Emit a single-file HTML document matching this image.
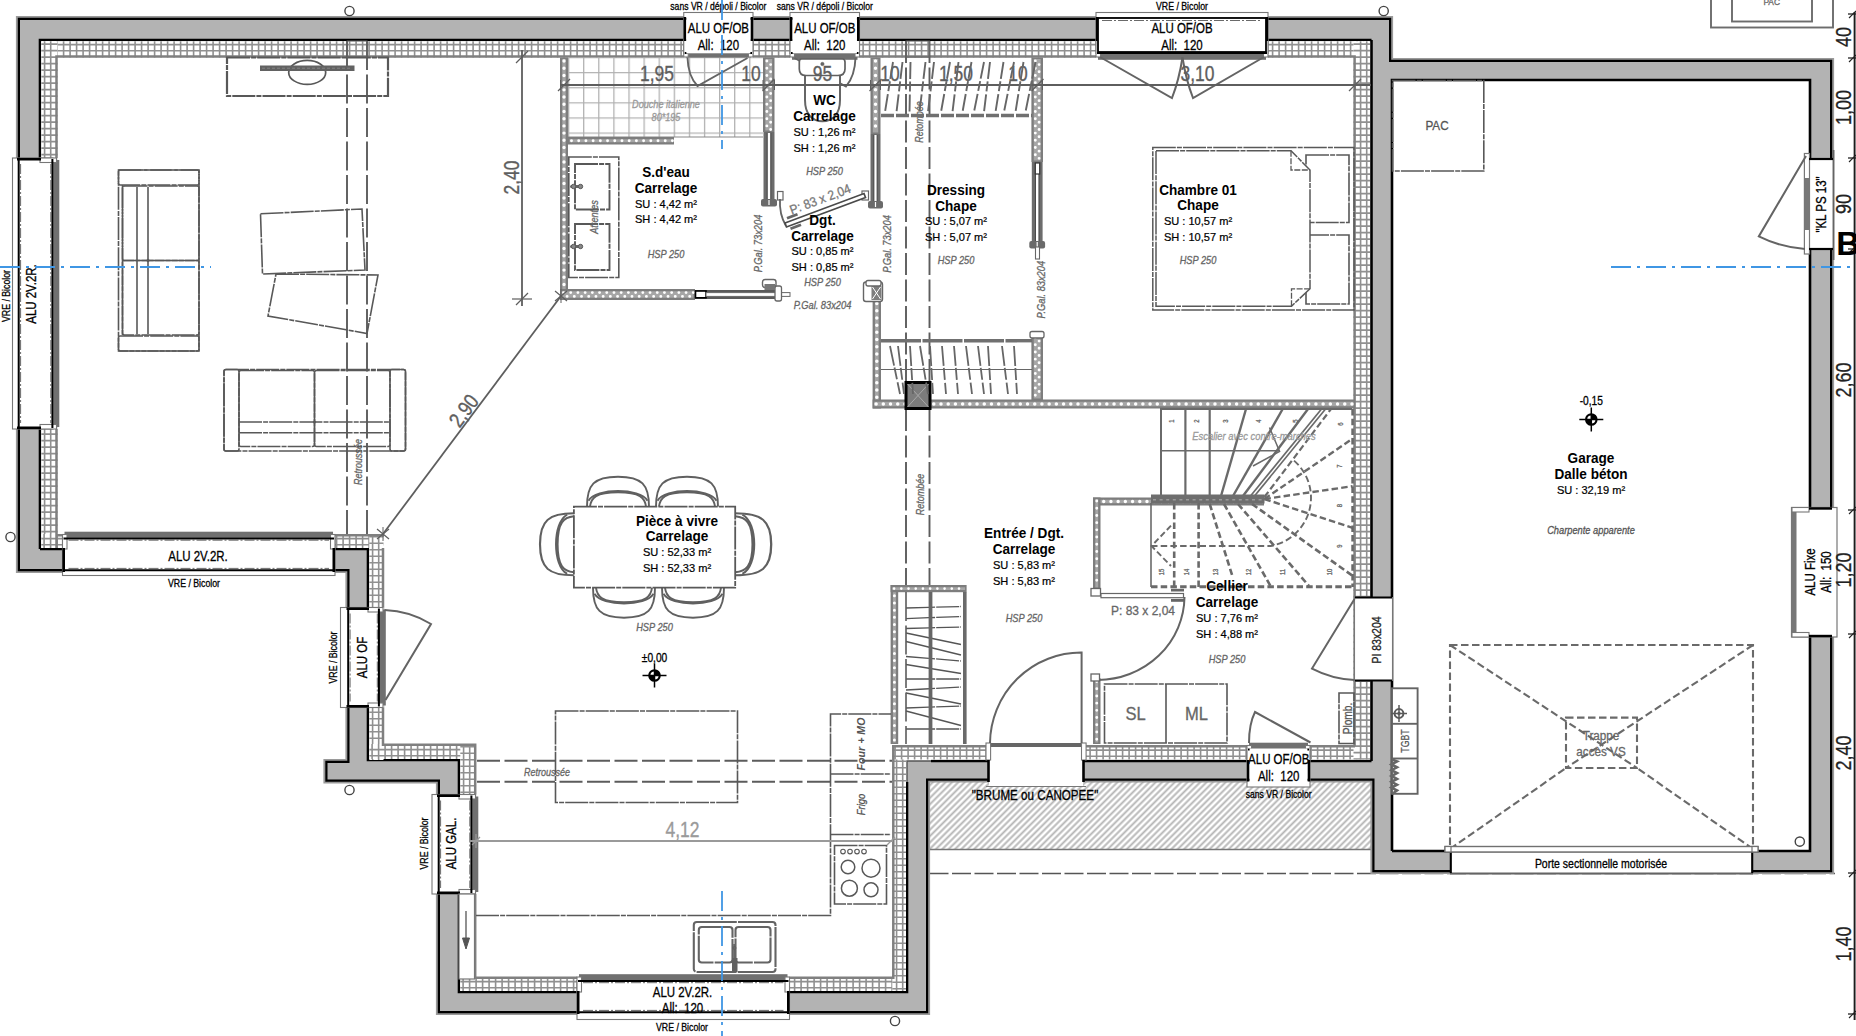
<!DOCTYPE html>
<html><head><meta charset="utf-8"><title>Plan RDC</title>
<style>
html,body{margin:0;padding:0;background:#fff;}
body{width:1856px;height:1036px;overflow:hidden;}
svg{display:block;font-family:"Liberation Sans",sans-serif;}
</style></head><body>
<svg width="1856" height="1036" viewBox="0 0 1856 1036">
<defs>
<pattern id="insH" x="40.1" y="40.0" width="6.75" height="5.3" patternUnits="userSpaceOnUse">
<rect width="6.75" height="5.3" fill="#858585"/><rect x="1.25" y="1.2" width="4.25" height="2.9" fill="#fff"/>
</pattern>
<pattern id="insV" x="40.0" y="40.1" width="5.3" height="6.75" patternUnits="userSpaceOnUse">
<rect width="5.3" height="6.75" fill="#858585"/><rect x="1.2" y="1.25" width="2.9" height="4.25" fill="#fff"/>
</pattern>
<pattern id="hatch" width="4.5" height="4.5" patternUnits="userSpaceOnUse" patternTransform="rotate(-45)">
<rect width="4.5" height="4.5" fill="#fff"/><line x1="0" y1="2.25" x2="4.5" y2="2.25" stroke="#b6b6b6" stroke-width="1.9"/>
</pattern>
<pattern id="tile" x="568" y="57" width="15.1" height="15.1" patternUnits="userSpaceOnUse">
<rect width="15.1" height="15.1" fill="#fff"/><path d="M0 0.6H15.1M0.6 0V15.1" stroke="#b0b0b0" stroke-width="1.3" fill="none"/>
</pattern>
</defs>
<rect width="1856" height="1036" fill="#fff"/>
<rect x="929.5" y="782" width="441.5" height="67.5" fill="url(#hatch)" stroke="none" stroke-width="1" />
<line x1="929.5" y1="849.5" x2="1371" y2="849.5" stroke="#777" stroke-width="1.4" />
<line x1="929.5" y1="873.5" x2="1835" y2="873.5" stroke="#555" stroke-width="1.5" stroke-dasharray="19 3.5" />
<rect x="17" y="17" width="1375" height="23" fill="#b3b3b3" stroke="none" stroke-width="1" />
<rect x="17" y="17" width="23" height="555" fill="#b3b3b3" stroke="none" stroke-width="1" />
<rect x="17" y="549" width="351" height="23" fill="#b3b3b3" stroke="none" stroke-width="1" />
<rect x="346.5" y="549" width="21.5" height="233" fill="#b3b3b3" stroke="none" stroke-width="1" />
<rect x="324.5" y="760" width="134.5" height="22.5" fill="#b3b3b3" stroke="none" stroke-width="1" />
<rect x="437" y="760" width="22" height="254" fill="#b3b3b3" stroke="none" stroke-width="1" />
<rect x="437" y="992" width="492" height="22" fill="#b3b3b3" stroke="none" stroke-width="1" />
<rect x="907" y="761" width="22" height="253" fill="#b3b3b3" stroke="none" stroke-width="1" />
<rect x="907" y="761" width="485" height="20.5" fill="#b3b3b3" stroke="none" stroke-width="1" />
<rect x="1371.5" y="17" width="20.5" height="856" fill="#b3b3b3" stroke="none" stroke-width="1" />
<rect x="1392" y="59" width="441" height="21" fill="#b3b3b3" stroke="none" stroke-width="1" />
<rect x="1810" y="59" width="23" height="814" fill="#b3b3b3" stroke="none" stroke-width="1" />
<rect x="1371.5" y="851" width="78.5" height="22" fill="#b3b3b3" stroke="none" stroke-width="1" />
<rect x="1753" y="851" width="80" height="22" fill="#b3b3b3" stroke="none" stroke-width="1" />
<path d="M17 17 L1392 17 L1392 59 L1833 59 L1833 873 L1371.5 873 L1371.5 781.5 L929 781.5 L929 1014 L437 1014 L437 782.5 L324.5 782.5 L324.5 760 L346.5 760 L346.5 572 L17 572 Z" fill="none" stroke="#9a9a9a" stroke-width="2.2" />
<path d="M18.9 18.9 L1390.1 18.9 L1390.1 60.9 L1831.1 60.9 L1831.1 871.1 L1373.4 871.1 L1373.4 779.6 L927.1 779.6 L927.1 1012.1 L438.9 1012.1 L438.9 780.6 L326.4 780.6 L326.4 761.9 L348.4 761.9 L348.4 570.1 L18.9 570.1 Z" fill="none" stroke="#000" stroke-width="2.2" stroke-linejoin="miter"/>
<path d="M40 549 L40 40 L1371.5 40" fill="none" stroke="#000" stroke-width="2.6" stroke-linejoin="miter"/>
<path d="M40 549 L368 549 L368 760 L459 760 L459 992 L907 992 L907 782" fill="none" stroke="#000" stroke-width="2.6" stroke-linejoin="miter"/>
<path d="M931 761 L1371.5 761" fill="none" stroke="#000" stroke-width="2.6" stroke-linejoin="miter"/>
<path d="M1371.5 40 L1371.5 761" fill="none" stroke="#000" stroke-width="2.6" stroke-linejoin="miter"/>
<path d="M1392 851 L1392 80 L1810 80 L1810 851 L1753 851" fill="none" stroke="#000" stroke-width="2.6" stroke-linejoin="miter"/>
<path d="M1450 851 L1392 851" fill="none" stroke="#000" stroke-width="2.6" stroke-linejoin="miter"/>
<path d="M907 782 L907 761 L931 761" fill="none" stroke="#555" stroke-width="1.4" />
<rect x="41.3" y="41.3" width="1328.7" height="16.2" fill="#fff" stroke="none" stroke-width="1" />
<line x1="41.3" y1="49.4" x2="1370" y2="49.4" stroke="#909090" stroke-width="16.200000000000003" stroke-dasharray="1.6 4.9" stroke-dashoffset="-2"/>
<line x1="41.3" y1="44.6" x2="1370" y2="44.6" stroke="#909090" stroke-width="1.6" />
<line x1="41.3" y1="50.7" x2="1370" y2="50.7" stroke="#909090" stroke-width="1.6" />
<rect x="41.3" y="41.3" width="16.2" height="506.7" fill="#fff" stroke="none" stroke-width="1" />
<line x1="49.4" y1="41.3" x2="49.4" y2="548" stroke="#909090" stroke-width="16.200000000000003" stroke-dasharray="1.6 4.9" stroke-dashoffset="-2"/>
<line x1="44.6" y1="41.3" x2="44.6" y2="548" stroke="#909090" stroke-width="1.6" />
<line x1="50.7" y1="41.3" x2="50.7" y2="548" stroke="#909090" stroke-width="1.6" />
<rect x="41.3" y="534" width="342.2" height="14" fill="#fff" stroke="none" stroke-width="1" />
<line x1="41.3" y1="541" x2="383.5" y2="541" stroke="#909090" stroke-width="14" stroke-dasharray="1.6 4.9" stroke-dashoffset="-2"/>
<line x1="41.3" y1="544.7" x2="383.5" y2="544.7" stroke="#909090" stroke-width="1.6" />
<line x1="41.3" y1="538.6" x2="383.5" y2="538.6" stroke="#909090" stroke-width="1.6" />
<rect x="369.3" y="534" width="14.2" height="226" fill="#fff" stroke="none" stroke-width="1" />
<line x1="376.4" y1="534" x2="376.4" y2="760" stroke="#909090" stroke-width="14.199999999999989" stroke-dasharray="1.6 4.9" stroke-dashoffset="-2"/>
<line x1="372.6" y1="534" x2="372.6" y2="760" stroke="#909090" stroke-width="1.6" />
<line x1="378.7" y1="534" x2="378.7" y2="760" stroke="#909090" stroke-width="1.6" />
<rect x="369.3" y="744" width="106.7" height="15" fill="#fff" stroke="none" stroke-width="1" />
<line x1="369.3" y1="751.5" x2="476" y2="751.5" stroke="#909090" stroke-width="15" stroke-dasharray="1.6 4.9" stroke-dashoffset="-2"/>
<line x1="369.3" y1="755.7" x2="476" y2="755.7" stroke="#909090" stroke-width="1.6" />
<line x1="369.3" y1="749.6" x2="476" y2="749.6" stroke="#909090" stroke-width="1.6" />
<rect x="460.3" y="744" width="15.7" height="247" fill="#fff" stroke="none" stroke-width="1" />
<line x1="468.15" y1="744" x2="468.15" y2="991" stroke="#909090" stroke-width="15.699999999999989" stroke-dasharray="1.6 4.9" stroke-dashoffset="-2"/>
<line x1="463.6" y1="744" x2="463.6" y2="991" stroke="#909090" stroke-width="1.6" />
<line x1="469.7" y1="744" x2="469.7" y2="991" stroke="#909090" stroke-width="1.6" />
<rect x="460.3" y="977" width="445.7" height="14" fill="#fff" stroke="none" stroke-width="1" />
<line x1="460.3" y1="984" x2="906" y2="984" stroke="#909090" stroke-width="14" stroke-dasharray="1.6 4.9" stroke-dashoffset="-2"/>
<line x1="460.3" y1="987.7" x2="906" y2="987.7" stroke="#909090" stroke-width="1.6" />
<line x1="460.3" y1="981.6" x2="906" y2="981.6" stroke="#909090" stroke-width="1.6" />
<rect x="892.3" y="745.5" width="13.7" height="245.5" fill="#fff" stroke="none" stroke-width="1" />
<line x1="899.15" y1="745.5" x2="899.15" y2="991" stroke="#909090" stroke-width="13.700000000000045" stroke-dasharray="1.6 4.9" stroke-dashoffset="-2"/>
<line x1="902.7" y1="745.5" x2="902.7" y2="991" stroke="#909090" stroke-width="1.6" />
<line x1="896.6" y1="745.5" x2="896.6" y2="991" stroke="#909090" stroke-width="1.6" />
<rect x="892.3" y="745.5" width="477.7" height="14" fill="#fff" stroke="none" stroke-width="1" />
<line x1="892.3" y1="752.5" x2="1370" y2="752.5" stroke="#909090" stroke-width="14.0" stroke-dasharray="1.6 4.9" stroke-dashoffset="-2"/>
<line x1="892.3" y1="756.2" x2="1370" y2="756.2" stroke="#909090" stroke-width="1.6" />
<line x1="892.3" y1="750.1" x2="1370" y2="750.1" stroke="#909090" stroke-width="1.6" />
<rect x="1353.5" y="41.3" width="16.5" height="718.2" fill="#fff" stroke="none" stroke-width="1" />
<line x1="1361.75" y1="41.3" x2="1361.75" y2="759.5" stroke="#909090" stroke-width="16.5" stroke-dasharray="1.6 4.9" stroke-dashoffset="-2"/>
<line x1="1366.7" y1="41.3" x2="1366.7" y2="759.5" stroke="#909090" stroke-width="1.6" />
<line x1="1360.6" y1="41.3" x2="1360.6" y2="759.5" stroke="#909090" stroke-width="1.6" />
<path d="M56.5 548 L56.5 56.5 L1354.6 56.5 L1354.6 746" fill="none" stroke="#808080" stroke-width="2.5" />
<path d="M383 548 L383 744.8 L475.2 744.8 L475.2 977.8 L893.3 977.8 L893.3 746" fill="none" stroke="#808080" stroke-width="2.5" />
<line x1="892" y1="746.3" x2="1355" y2="746.3" stroke="#808080" stroke-width="2.4" />
<line x1="56.5" y1="535.2" x2="384" y2="535.2" stroke="#808080" stroke-width="2.4" />
<rect x="12.5" y="158" width="45.3" height="271" fill="#fff" stroke="none" stroke-width="1" />
<rect x="12.5" y="158" width="40.5" height="271" fill="none" stroke="#777" stroke-width="1.1" />
<rect x="53.4" y="160" width="5.9" height="267" fill="#707070" stroke="none" stroke-width="1" />
<rect x="40" y="158" width="16.5" height="4.5" fill="#fff" stroke="#777" stroke-width="1.1" />
<rect x="40" y="424.5" width="16.5" height="4.5" fill="#fff" stroke="#777" stroke-width="1.1" />
<line x1="52.4" y1="159" x2="52.4" y2="428" stroke="#000" stroke-width="2.0" />
<line x1="18.7" y1="159" x2="18.7" y2="428" stroke="#000" stroke-width="2.0" />
<line x1="41" y1="159.2" x2="17" y2="159.2" stroke="#000" stroke-width="2.6" />
<line x1="41" y1="427.8" x2="17" y2="427.8" stroke="#000" stroke-width="2.6" />
<line x1="50.8" y1="164" x2="50.8" y2="423" stroke="#444" stroke-width="0.8" stroke-dasharray="10 2 2 2" />
<line x1="20.6" y1="164" x2="20.6" y2="423" stroke="#444" stroke-width="0.8" stroke-dasharray="10 2 2 2" />
<text transform="translate(31,294) rotate(-90) scale(0.82,1)" font-size="14" text-anchor="middle" dy="0.36em" fill="#000" stroke="#000" stroke-width="0.3" >ALU 2V.2R.</text>
<text transform="translate(6,296) rotate(-90) scale(0.82,1)" font-size="10.7" text-anchor="middle" dy="0.36em" fill="#000" stroke="#000" stroke-width="0.3" >VRE / Bicolor</text>
<rect x="62.5" y="533.2" width="272.5" height="42.3" fill="#fff" stroke="none" stroke-width="1" />
<rect x="62.5" y="538" width="272.5" height="37.5" fill="none" stroke="#777" stroke-width="1.1" />
<rect x="64.5" y="531.7" width="268.5" height="5.9" fill="#707070" stroke="none" stroke-width="1" />
<rect x="62.5" y="534.5" width="4.5" height="14.5" fill="#fff" stroke="#777" stroke-width="1.1" />
<rect x="330.5" y="534.5" width="4.5" height="14.5" fill="#fff" stroke="#777" stroke-width="1.1" />
<line x1="63.5" y1="538.6" x2="334" y2="538.6" stroke="#000" stroke-width="2.0" />
<line x1="63.5" y1="570.3" x2="334" y2="570.3" stroke="#000" stroke-width="2.0" />
<line x1="63.7" y1="548" x2="63.7" y2="572" stroke="#000" stroke-width="2.6" />
<line x1="333.8" y1="548" x2="333.8" y2="572" stroke="#000" stroke-width="2.6" />
<line x1="68.5" y1="540.2" x2="329" y2="540.2" stroke="#444" stroke-width="0.8" stroke-dasharray="10 2 2 2" />
<line x1="68.5" y1="568.4" x2="329" y2="568.4" stroke="#444" stroke-width="0.8" stroke-dasharray="10 2 2 2" />
<text transform="translate(198,555.5) scale(0.82,1)" font-size="14" text-anchor="middle" dy="0.36em" fill="#000" stroke="#000" stroke-width="0.3" >ALU 2V.2R.</text>
<text transform="translate(194,583) scale(0.82,1)" font-size="10.7" text-anchor="middle" dy="0.36em" fill="#000" stroke="#000" stroke-width="0.3" >VRE / Bicolor</text>
<rect x="340.5" y="607.5" width="43.8" height="100" fill="#fff" stroke="none" stroke-width="1" />
<rect x="340.5" y="607.5" width="39" height="100" fill="none" stroke="#777" stroke-width="1.1" />
<rect x="379.9" y="609.5" width="5.9" height="96" fill="#707070" stroke="none" stroke-width="1" />
<rect x="368" y="607.5" width="15" height="4.5" fill="#fff" stroke="#777" stroke-width="1.1" />
<rect x="368" y="703" width="15" height="4.5" fill="#fff" stroke="#777" stroke-width="1.1" />
<line x1="378.9" y1="608.5" x2="378.9" y2="706.5" stroke="#000" stroke-width="2.0" />
<line x1="348.2" y1="608.5" x2="348.2" y2="706.5" stroke="#000" stroke-width="2.0" />
<line x1="369" y1="608.7" x2="346.5" y2="608.7" stroke="#000" stroke-width="2.6" />
<line x1="369" y1="706.3" x2="346.5" y2="706.3" stroke="#000" stroke-width="2.6" />
<line x1="377.3" y1="613.5" x2="377.3" y2="701.5" stroke="#444" stroke-width="0.8" stroke-dasharray="10 2 2 2" />
<line x1="350.1" y1="613.5" x2="350.1" y2="701.5" stroke="#444" stroke-width="0.8" stroke-dasharray="10 2 2 2" />
<text transform="translate(362,657.5) rotate(-90) scale(0.82,1)" font-size="14" text-anchor="middle" dy="0.36em" fill="#000" stroke="#000" stroke-width="0.3" >ALU OF</text>
<text transform="translate(333.5,657.5) rotate(-90) scale(0.82,1)" font-size="10.7" text-anchor="middle" dy="0.36em" fill="#000" stroke="#000" stroke-width="0.3" >VRE / Bicolor</text>
<rect x="432" y="794.5" width="44.8" height="99.5" fill="#fff" stroke="none" stroke-width="1" />
<rect x="432" y="794.5" width="40" height="99.5" fill="none" stroke="#777" stroke-width="1.1" />
<rect x="472.4" y="796.5" width="5.9" height="95.5" fill="#707070" stroke="none" stroke-width="1" />
<rect x="459" y="794.5" width="16.5" height="4.5" fill="#fff" stroke="#777" stroke-width="1.1" />
<rect x="459" y="889.5" width="16.5" height="4.5" fill="#fff" stroke="#777" stroke-width="1.1" />
<line x1="471.4" y1="795.5" x2="471.4" y2="893" stroke="#000" stroke-width="2.0" />
<line x1="438.7" y1="795.5" x2="438.7" y2="893" stroke="#000" stroke-width="2.0" />
<line x1="460" y1="795.7" x2="437" y2="795.7" stroke="#000" stroke-width="2.6" />
<line x1="460" y1="892.8" x2="437" y2="892.8" stroke="#000" stroke-width="2.6" />
<line x1="469.8" y1="800.5" x2="469.8" y2="888" stroke="#444" stroke-width="0.8" stroke-dasharray="10 2 2 2" />
<line x1="440.6" y1="800.5" x2="440.6" y2="888" stroke="#444" stroke-width="0.8" stroke-dasharray="10 2 2 2" />
<text transform="translate(451,843.5) rotate(-90) scale(0.82,1)" font-size="14" text-anchor="middle" dy="0.36em" fill="#000" stroke="#000" stroke-width="0.3" >ALU GAL.</text>
<text transform="translate(424,843.5) rotate(-90) scale(0.82,1)" font-size="10.7" text-anchor="middle" dy="0.36em" fill="#000" stroke="#000" stroke-width="0.3" >VRE / Bicolor</text>
<rect x="459" y="894" width="15.5" height="85" fill="#fff" stroke="#777" stroke-width="1.2" />
<line x1="466" y1="911" x2="466" y2="946" stroke="#555" stroke-width="1.3" />
<path d="M462.5 938 L466 949 L469.5 938 Z" fill="#555" stroke="#555" stroke-width="1" />
<rect x="577" y="975.7" width="212.5" height="43.8" fill="#fff" stroke="none" stroke-width="1" />
<rect x="577" y="980.5" width="212.5" height="39" fill="none" stroke="#777" stroke-width="1.1" />
<rect x="579" y="974.2" width="208.5" height="5.9" fill="#707070" stroke="none" stroke-width="1" />
<rect x="577" y="977" width="4.5" height="15" fill="#fff" stroke="#777" stroke-width="1.1" />
<rect x="785" y="977" width="4.5" height="15" fill="#fff" stroke="#777" stroke-width="1.1" />
<line x1="578" y1="981.1" x2="788.5" y2="981.1" stroke="#000" stroke-width="2.0" />
<line x1="578" y1="1012.3" x2="788.5" y2="1012.3" stroke="#000" stroke-width="2.0" />
<line x1="578.2" y1="991" x2="578.2" y2="1014" stroke="#000" stroke-width="2.6" />
<line x1="788.3" y1="991" x2="788.3" y2="1014" stroke="#000" stroke-width="2.6" />
<line x1="583" y1="982.7" x2="783.5" y2="982.7" stroke="#444" stroke-width="0.8" stroke-dasharray="10 2 2 2" />
<line x1="583" y1="1010.4" x2="783.5" y2="1010.4" stroke="#444" stroke-width="0.8" stroke-dasharray="10 2 2 2" />
<text transform="translate(682.5,991.5) scale(0.82,1)" font-size="14" text-anchor="middle" dy="0.36em" fill="#000" stroke="#000" stroke-width="0.3" >ALU 2V.2R.</text>
<text transform="translate(682.5,1007.5) scale(0.82,1)" font-size="14" text-anchor="middle" dy="0.36em" fill="#000" stroke="#000" stroke-width="0.3" >All:  120</text>
<text transform="translate(682,1027) scale(0.82,1)" font-size="10.7" text-anchor="middle" dy="0.36em" fill="#000" stroke="#000" stroke-width="0.3" >VRE / Bicolor</text>
<rect x="683.75" y="12.5" width="69.25" height="45.8" fill="#fff" stroke="none" stroke-width="1" />
<rect x="683.75" y="12.5" width="69.25" height="41" fill="none" stroke="#777" stroke-width="1.1" />
<rect x="685.75" y="53.9" width="65.25" height="5.9" fill="#707070" stroke="none" stroke-width="1" />
<rect x="683.75" y="40" width="4.5" height="17" fill="#fff" stroke="#777" stroke-width="1.1" />
<rect x="748.5" y="40" width="4.5" height="17" fill="#fff" stroke="#777" stroke-width="1.1" />
<line x1="684.75" y1="52.9" x2="752" y2="52.9" stroke="#000" stroke-width="2.0" />
<line x1="684.75" y1="18.7" x2="752" y2="18.7" stroke="#000" stroke-width="2.0" />
<line x1="684.95" y1="41" x2="684.95" y2="17" stroke="#000" stroke-width="2.6" />
<line x1="751.8" y1="41" x2="751.8" y2="17" stroke="#000" stroke-width="2.6" />
<line x1="689.75" y1="51.3" x2="747" y2="51.3" stroke="#444" stroke-width="0.8" stroke-dasharray="10 2 2 2" />
<line x1="689.75" y1="20.6" x2="747" y2="20.6" stroke="#444" stroke-width="0.8" stroke-dasharray="10 2 2 2" />
<rect x="686.35" y="14" width="64.05" height="39.6" fill="#fff" stroke="none" stroke-width="1" />
<text transform="translate(718.38,27.5) scale(0.82,1)" font-size="14" text-anchor="middle" dy="0.36em" fill="#000" stroke="#000" stroke-width="0.3" >ALU OF/OB</text>
<text transform="translate(718.38,44.5) scale(0.82,1)" font-size="14" text-anchor="middle" dy="0.36em" fill="#000" stroke="#000" stroke-width="0.3" >All:  120</text>
<text transform="translate(718.38,6) scale(0.82,1)" font-size="10.5" text-anchor="middle" dy="0.36em" fill="#000" stroke="#000" stroke-width="0.3" >sans VR / dépoli / Bicolor</text>
<rect x="790" y="12.5" width="69.5" height="45.8" fill="#fff" stroke="none" stroke-width="1" />
<rect x="790" y="12.5" width="69.5" height="41" fill="none" stroke="#777" stroke-width="1.1" />
<rect x="792" y="53.9" width="65.5" height="5.9" fill="#707070" stroke="none" stroke-width="1" />
<rect x="790" y="40" width="4.5" height="17" fill="#fff" stroke="#777" stroke-width="1.1" />
<rect x="855" y="40" width="4.5" height="17" fill="#fff" stroke="#777" stroke-width="1.1" />
<line x1="791" y1="52.9" x2="858.5" y2="52.9" stroke="#000" stroke-width="2.0" />
<line x1="791" y1="18.7" x2="858.5" y2="18.7" stroke="#000" stroke-width="2.0" />
<line x1="791.2" y1="41" x2="791.2" y2="17" stroke="#000" stroke-width="2.6" />
<line x1="858.3" y1="41" x2="858.3" y2="17" stroke="#000" stroke-width="2.6" />
<line x1="796" y1="51.3" x2="853.5" y2="51.3" stroke="#444" stroke-width="0.8" stroke-dasharray="10 2 2 2" />
<line x1="796" y1="20.6" x2="853.5" y2="20.6" stroke="#444" stroke-width="0.8" stroke-dasharray="10 2 2 2" />
<rect x="792.6" y="14" width="64.3" height="39.6" fill="#fff" stroke="none" stroke-width="1" />
<text transform="translate(824.75,27.5) scale(0.82,1)" font-size="14" text-anchor="middle" dy="0.36em" fill="#000" stroke="#000" stroke-width="0.3" >ALU OF/OB</text>
<text transform="translate(824.75,44.5) scale(0.82,1)" font-size="14" text-anchor="middle" dy="0.36em" fill="#000" stroke="#000" stroke-width="0.3" >All:  120</text>
<text transform="translate(824.75,6) scale(0.82,1)" font-size="10.5" text-anchor="middle" dy="0.36em" fill="#000" stroke="#000" stroke-width="0.3" >sans VR / dépoli / Bicolor</text>
<rect x="1096" y="12.5" width="172" height="45.8" fill="#fff" stroke="none" stroke-width="1" />
<rect x="1096" y="12.5" width="172" height="41" fill="none" stroke="#777" stroke-width="1.1" />
<rect x="1098" y="53.9" width="168" height="5.9" fill="#707070" stroke="none" stroke-width="1" />
<rect x="1096" y="40" width="4.5" height="17" fill="#fff" stroke="#777" stroke-width="1.1" />
<rect x="1263.5" y="40" width="4.5" height="17" fill="#fff" stroke="#777" stroke-width="1.1" />
<line x1="1097" y1="52.9" x2="1267" y2="52.9" stroke="#000" stroke-width="2.0" />
<line x1="1097" y1="18.7" x2="1267" y2="18.7" stroke="#000" stroke-width="2.0" />
<line x1="1097.2" y1="41" x2="1097.2" y2="17" stroke="#000" stroke-width="2.6" />
<line x1="1266.8" y1="41" x2="1266.8" y2="17" stroke="#000" stroke-width="2.6" />
<line x1="1102" y1="51.3" x2="1262" y2="51.3" stroke="#444" stroke-width="0.8" stroke-dasharray="10 2 2 2" />
<line x1="1102" y1="20.6" x2="1262" y2="20.6" stroke="#444" stroke-width="0.8" stroke-dasharray="10 2 2 2" />
<rect x="1098" y="18" width="168" height="34" fill="#fff" stroke="#000" stroke-width="1.8" />
<line x1="1102" y1="20.5" x2="1262" y2="20.5" stroke="#444" stroke-width="0.8" stroke-dasharray="10 2 2 2" />
<text transform="translate(1182,28) scale(0.82,1)" font-size="14" text-anchor="middle" dy="0.36em" fill="#000" stroke="#000" stroke-width="0.3" >ALU OF/OB</text>
<text transform="translate(1182,44.5) scale(0.82,1)" font-size="14" text-anchor="middle" dy="0.36em" fill="#000" stroke="#000" stroke-width="0.3" >All:  120</text>
<text transform="translate(1182,6) scale(0.82,1)" font-size="10.7" text-anchor="middle" dy="0.36em" fill="#000" stroke="#000" stroke-width="0.3" >VRE / Bicolor</text>
<rect x="1247" y="744.2" width="63" height="42.8" fill="#fff" stroke="none" stroke-width="1" />
<rect x="1247" y="749" width="63" height="38" fill="none" stroke="#777" stroke-width="1.1" />
<rect x="1249" y="742.7" width="59" height="5.9" fill="#707070" stroke="none" stroke-width="1" />
<rect x="1247" y="745.5" width="4.5" height="15.5" fill="#fff" stroke="#777" stroke-width="1.1" />
<rect x="1305.5" y="745.5" width="4.5" height="15.5" fill="#fff" stroke="#777" stroke-width="1.1" />
<line x1="1248" y1="749.6" x2="1309" y2="749.6" stroke="#000" stroke-width="2.0" />
<line x1="1248" y1="779.8" x2="1309" y2="779.8" stroke="#000" stroke-width="2.0" />
<line x1="1248.2" y1="760" x2="1248.2" y2="781.5" stroke="#000" stroke-width="2.6" />
<line x1="1308.8" y1="760" x2="1308.8" y2="781.5" stroke="#000" stroke-width="2.6" />
<line x1="1253" y1="751.2" x2="1304" y2="751.2" stroke="#444" stroke-width="0.8" stroke-dasharray="10 2 2 2" />
<line x1="1253" y1="777.9" x2="1304" y2="777.9" stroke="#444" stroke-width="0.8" stroke-dasharray="10 2 2 2" />
<rect x="1249.6" y="748.4" width="57.8" height="37.1" fill="#fff" stroke="none" stroke-width="1" />
<text transform="translate(1278.7,759) scale(0.82,1)" font-size="14" text-anchor="middle" dy="0.36em" fill="#000" stroke="#000" stroke-width="0.3" >ALU OF/OB</text>
<text transform="translate(1278.7,775.5) scale(0.82,1)" font-size="14" text-anchor="middle" dy="0.36em" fill="#000" stroke="#000" stroke-width="0.3" >All:  120</text>
<text transform="translate(1278.7,794.7) scale(0.82,1)" font-size="10.5" text-anchor="middle" dy="0.36em" fill="#000" stroke="#000" stroke-width="0.3" >sans VR / Bicolor</text>
<text transform="translate(1035,794.7) scale(0.82,1)" font-size="14.2" text-anchor="middle" dy="0.36em" fill="#000" stroke="#000" stroke-width="0.3" >"BRUME ou CANOPEE"</text>
<rect x="1791.5" y="507.5" width="45.5" height="129.5" fill="#fff" stroke="#777" stroke-width="1.2" />
<rect x="1792" y="510" width="4.5" height="124" fill="#777" stroke="none" stroke-width="1" />
<rect x="1792" y="507.5" width="17" height="4.5" fill="#fff" stroke="#777" stroke-width="1.1" />
<rect x="1792" y="632.5" width="17" height="4.5" fill="#fff" stroke="#777" stroke-width="1.1" />
<line x1="1809" y1="508.5" x2="1832" y2="508.5" stroke="#000" stroke-width="2.4" />
<line x1="1809" y1="636" x2="1832" y2="636" stroke="#000" stroke-width="2.4" />
<text transform="translate(1809.5,572) rotate(-90) scale(0.82,1)" font-size="14" text-anchor="middle" dy="0.36em" fill="#000" stroke="#000" stroke-width="0.3" >ALU Fixe</text>
<text transform="translate(1826,572) rotate(-90) scale(0.82,1)" font-size="14" text-anchor="middle" dy="0.36em" fill="#000" stroke="#000" stroke-width="0.3" >All:  150</text>
<rect x="1809" y="158.2" width="25.5" height="91.3" fill="#fff" stroke="none" stroke-width="1" />
<line x1="1833.5" y1="150" x2="1833.5" y2="260" stroke="#646464" stroke-width="1.9" />
<rect x="1804.4" y="153.5" width="5.1" height="100.5" fill="#fff" stroke="#777" stroke-width="1.2" />
<rect x="1804.6" y="178" width="4.7" height="52" fill="#777" stroke="none" stroke-width="1" />
<line x1="1809" y1="159" x2="1833" y2="159" stroke="#000" stroke-width="2.2" />
<line x1="1809" y1="249" x2="1833" y2="249" stroke="#000" stroke-width="2.2" />
<path d="M1806 156 L1758.8 236.4 Q1780 247 1805 249" fill="none" stroke="#646464" stroke-width="2.0" />
<text transform="translate(1820.7,204.5) rotate(-90) scale(0.82,1)" font-size="14" text-anchor="middle" dy="0.36em" fill="#000" stroke="#000" stroke-width="0.3" >"KL PS 13"</text>
<rect x="989" y="744" width="94" height="42.5" fill="#fff" stroke="none" stroke-width="1" />
<line x1="986" y1="786.5" x2="1086" y2="786.5" stroke="#777" stroke-width="1.1" />
<rect x="990" y="743" width="91" height="4" fill="#666" stroke="none" stroke-width="1" />
<rect x="986" y="743" width="4.6" height="17" fill="#fff" stroke="#777" stroke-width="1.1" />
<rect x="1081.5" y="743" width="4.6" height="17" fill="#fff" stroke="#777" stroke-width="1.1" />
<line x1="988.5" y1="760" x2="988.5" y2="782" stroke="#000" stroke-width="2.6" />
<line x1="1083.5" y1="760" x2="1083.5" y2="782" stroke="#000" stroke-width="2.6" />
<path d="M1081.6 743 L1081.6 652.6 A 91 91 0 0 0 990 743" fill="none" stroke="#646464" stroke-width="2.0" />
<rect x="1354.5" y="597" width="38.5" height="84" fill="#fff" stroke="none" stroke-width="1" />
<line x1="1354.5" y1="597" x2="1354.5" y2="681" stroke="#777" stroke-width="1.1" />
<line x1="1392.5" y1="597" x2="1392.5" y2="681" stroke="#777" stroke-width="1.1" />
<line x1="1355" y1="597.5" x2="1392" y2="597.5" stroke="#000" stroke-width="2.2" />
<line x1="1355" y1="680.5" x2="1392" y2="680.5" stroke="#000" stroke-width="2.2" />
<text transform="translate(1376.5,640) rotate(-90) scale(0.82,1)" font-size="12.8" text-anchor="middle" dy="0.36em" fill="#222" stroke="#222" stroke-width="0.3" >PI 83x204</text>
<path d="M1354.5 599 L1312 668.6 Q1332 679 1354.5 680" fill="none" stroke="#646464" stroke-width="2.0" />
<rect x="1450" y="850" width="303" height="24" fill="#fff" stroke="none" stroke-width="1" />
<rect x="1450" y="848.5" width="303" height="3.5" fill="#fff" stroke="#777" stroke-width="1.1" />
<line x1="1450" y1="873.5" x2="1753" y2="873.5" stroke="#646464" stroke-width="1.9" />
<rect x="1446" y="847" width="5" height="5.5" fill="#fff" stroke="#777" stroke-width="1" />
<rect x="1752" y="847" width="5" height="5.5" fill="#fff" stroke="#777" stroke-width="1" />
<text transform="translate(1601,863) scale(0.82,1)" font-size="12.8" text-anchor="middle" dy="0.36em" fill="#000" stroke="#000" stroke-width="0.3" >Porte sectionnelle motorisée</text>
<rect x="568" y="57.5" width="195" height="79.5" fill="url(#tile)" stroke="none" stroke-width="1" />
<line x1="568" y1="137" x2="763" y2="137" stroke="#888" stroke-width="1.2" />
<rect x="560" y="57.5" width="8" height="242.5" fill="#7d7d7d" stroke="none" stroke-width="1" />
<line x1="564" y1="59" x2="564" y2="298.5" stroke="#a6a6a6" stroke-width="3.4000000000000004" />
<line x1="564" y1="61" x2="564" y2="298.5" stroke="#fff" stroke-width="3.4000000000000004" stroke-dasharray="0.01 7.2" stroke-linecap="round"/>
<rect x="560" y="289" width="135" height="11" fill="#7d7d7d" stroke="none" stroke-width="1" />
<line x1="561.5" y1="294.5" x2="693.5" y2="294.5" stroke="#a6a6a6" stroke-width="6.4" />
<line x1="563.5" y1="292.6" x2="693.5" y2="292.6" stroke="#fff" stroke-width="2.9" stroke-dasharray="0.01 7.2" stroke-linecap="round"/>
<line x1="567.1" y1="296.4" x2="693.5" y2="296.4" stroke="#fff" stroke-width="2.9" stroke-dasharray="0.01 7.2" stroke-linecap="round"/>
<rect x="568" y="137" width="106" height="7.5" fill="#7d7d7d" stroke="none" stroke-width="1" />
<line x1="569.5" y1="140.75" x2="672.5" y2="140.75" stroke="#a6a6a6" stroke-width="2.9000000000000004" />
<line x1="571.5" y1="140.75" x2="672.5" y2="140.75" stroke="#fff" stroke-width="2.9000000000000004" stroke-dasharray="0.01 7.2" stroke-linecap="round"/>
<rect x="763" y="57.5" width="11.5" height="74.5" fill="#7d7d7d" stroke="none" stroke-width="1" />
<line x1="768.75" y1="59" x2="768.75" y2="130.5" stroke="#a6a6a6" stroke-width="6.9" />
<line x1="766.85" y1="61" x2="766.85" y2="130.5" stroke="#fff" stroke-width="2.9" stroke-dasharray="0.01 7.2" stroke-linecap="round"/>
<line x1="770.65" y1="64.6" x2="770.65" y2="130.5" stroke="#fff" stroke-width="2.9" stroke-dasharray="0.01 7.2" stroke-linecap="round"/>
<rect x="870.5" y="57.5" width="10" height="76.5" fill="#7d7d7d" stroke="none" stroke-width="1" />
<line x1="875.5" y1="59" x2="875.5" y2="132.5" stroke="#a6a6a6" stroke-width="5.4" />
<line x1="875.5" y1="61" x2="875.5" y2="132.5" stroke="#fff" stroke-width="3.5" stroke-dasharray="0.01 7.2" stroke-linecap="round"/>
<rect x="872.6" y="300" width="8.4" height="108.5" fill="#7d7d7d" stroke="none" stroke-width="1" />
<line x1="876.8" y1="301.5" x2="876.8" y2="407" stroke="#a6a6a6" stroke-width="3.7999999999999776" />
<line x1="876.8" y1="303.5" x2="876.8" y2="407" stroke="#fff" stroke-width="3.5" stroke-dasharray="0.01 7.2" stroke-linecap="round"/>
<rect x="872.6" y="399.5" width="482.4" height="9" fill="#7d7d7d" stroke="none" stroke-width="1" />
<line x1="874.1" y1="404" x2="1353.5" y2="404" stroke="#a6a6a6" stroke-width="4.4" />
<line x1="876.1" y1="404" x2="1353.5" y2="404" stroke="#fff" stroke-width="3.5" stroke-dasharray="0.01 7.2" stroke-linecap="round"/>
<rect x="1031.4" y="57.5" width="11.6" height="104.5" fill="#7d7d7d" stroke="none" stroke-width="1" />
<line x1="1037.2" y1="59" x2="1037.2" y2="160.5" stroke="#a6a6a6" stroke-width="6.999999999999909" />
<line x1="1035.3" y1="61" x2="1035.3" y2="160.5" stroke="#fff" stroke-width="2.9" stroke-dasharray="0.01 7.2" stroke-linecap="round"/>
<line x1="1039.1" y1="64.6" x2="1039.1" y2="160.5" stroke="#fff" stroke-width="2.9" stroke-dasharray="0.01 7.2" stroke-linecap="round"/>
<rect x="1031.4" y="334" width="11.6" height="66" fill="#7d7d7d" stroke="none" stroke-width="1" />
<line x1="1037.2" y1="335.5" x2="1037.2" y2="398.5" stroke="#a6a6a6" stroke-width="6.999999999999909" />
<line x1="1035.3" y1="337.5" x2="1035.3" y2="398.5" stroke="#fff" stroke-width="2.9" stroke-dasharray="0.01 7.2" stroke-linecap="round"/>
<line x1="1039.1" y1="341.1" x2="1039.1" y2="398.5" stroke="#fff" stroke-width="2.9" stroke-dasharray="0.01 7.2" stroke-linecap="round"/>
<rect x="1093" y="497.5" width="171" height="8" fill="#7d7d7d" stroke="none" stroke-width="1" />
<line x1="1094.5" y1="501.5" x2="1262.5" y2="501.5" stroke="#a6a6a6" stroke-width="3.4000000000000004" />
<line x1="1096.5" y1="501.5" x2="1262.5" y2="501.5" stroke="#fff" stroke-width="3.4000000000000004" stroke-dasharray="0.01 7.2" stroke-linecap="round"/>
<rect x="1093" y="497.5" width="7.5" height="91.5" fill="#7d7d7d" stroke="none" stroke-width="1" />
<line x1="1096.75" y1="499" x2="1096.75" y2="587.5" stroke="#a6a6a6" stroke-width="2.9000000000000004" />
<line x1="1096.75" y1="501" x2="1096.75" y2="587.5" stroke="#fff" stroke-width="2.9000000000000004" stroke-dasharray="0.01 7.2" stroke-linecap="round"/>
<rect x="1093" y="678" width="7.5" height="66" fill="#7d7d7d" stroke="none" stroke-width="1" />
<line x1="1096.75" y1="679.5" x2="1096.75" y2="742.5" stroke="#a6a6a6" stroke-width="2.9000000000000004" />
<line x1="1096.75" y1="681.5" x2="1096.75" y2="742.5" stroke="#fff" stroke-width="2.9000000000000004" stroke-dasharray="0.01 7.2" stroke-linecap="round"/>
<rect x="890.6" y="585" width="7.6" height="159" fill="#7d7d7d" stroke="none" stroke-width="1" />
<line x1="894.4" y1="586.5" x2="894.4" y2="742.5" stroke="#a6a6a6" stroke-width="3.000000000000023" />
<line x1="894.4" y1="588.5" x2="894.4" y2="742.5" stroke="#fff" stroke-width="3.000000000000023" stroke-dasharray="0.01 7.2" stroke-linecap="round"/>
<rect x="890.6" y="585" width="76" height="7.2" fill="#7d7d7d" stroke="none" stroke-width="1" />
<line x1="892.1" y1="588.6" x2="965.1" y2="588.6" stroke="#a6a6a6" stroke-width="2.600000000000046" />
<line x1="894.1" y1="588.6" x2="965.1" y2="588.6" stroke="#fff" stroke-width="2.600000000000046" stroke-dasharray="0.01 7.2" stroke-linecap="round"/>
<rect x="963" y="592" width="3.6" height="152" fill="#6a6a6a" stroke="none" stroke-width="1" />
<rect x="763.5" y="132" width="11" height="73" fill="#6c6c6c" stroke="none" stroke-width="1" />
<rect x="767.24" y="133" width="3.52" height="70" fill="#fff" stroke="none" stroke-width="1" />
<line x1="767.24" y1="133" x2="767.24" y2="203" stroke="#3a3a3a" stroke-width="0.9" />
<line x1="770.76" y1="133" x2="770.76" y2="203" stroke="#3a3a3a" stroke-width="0.9" />
<rect x="761" y="199" width="16" height="7.5" fill="#6a6a6a" stroke="none" stroke-width="1" rx="2"/>
<line x1="769" y1="200" x2="769" y2="205" stroke="#fff" stroke-width="1.2" />
<rect x="870.5" y="134" width="10" height="73" fill="#6c6c6c" stroke="none" stroke-width="1" />
<rect x="873.9" y="135" width="3.2" height="70" fill="#fff" stroke="none" stroke-width="1" />
<line x1="873.9" y1="135" x2="873.9" y2="205" stroke="#3a3a3a" stroke-width="0.9" />
<line x1="877.1" y1="135" x2="877.1" y2="205" stroke="#3a3a3a" stroke-width="0.9" />
<rect x="868" y="201" width="15" height="7.5" fill="#6a6a6a" stroke="none" stroke-width="1" rx="2"/>
<line x1="875.5" y1="202" x2="875.5" y2="207" stroke="#fff" stroke-width="1.2" />
<rect x="1031.8" y="162" width="10.8" height="85" fill="#6c6c6c" stroke="none" stroke-width="1" />
<rect x="1035.47" y="163" width="3.46" height="82" fill="#fff" stroke="none" stroke-width="1" />
<line x1="1035.47" y1="163" x2="1035.47" y2="245" stroke="#3a3a3a" stroke-width="0.9" />
<line x1="1038.93" y1="163" x2="1038.93" y2="245" stroke="#3a3a3a" stroke-width="0.9" />
<rect x="1029.3" y="241" width="15.8" height="7.5" fill="#6a6a6a" stroke="none" stroke-width="1" rx="2"/>
<line x1="1037.2" y1="242" x2="1037.2" y2="247" stroke="#fff" stroke-width="1.2" />
<rect x="1035.5" y="247" width="4" height="12" fill="#fff" stroke="#666" stroke-width="1.1" />
<rect x="1035.3" y="163" width="4.4" height="11" fill="#fff" stroke="#333" stroke-width="1.2" />
<rect x="1030" y="331.5" width="14" height="6.5" fill="#fff" stroke="#666" stroke-width="1.3" rx="2"/>
<rect x="863.5" y="282" width="19" height="19.5" fill="#fff" stroke="#666" stroke-width="1.4" rx="2.5"/>
<rect x="871.5" y="286" width="10" height="14" fill="#7d7d7d" stroke="none" stroke-width="1" />
<path d="M872.5 287 L880.5 299 M880.5 287 L872.5 299" fill="none" stroke="#fff" stroke-width="1" />
<rect x="866" y="280.5" width="15" height="5.5" fill="#fff" stroke="#666" stroke-width="1.3" rx="2"/>
<rect x="695" y="289.5" width="81" height="10" fill="#fff" stroke="none" stroke-width="1" />
<line x1="695" y1="291.2" x2="776" y2="291.2" stroke="#5a5a5a" stroke-width="2.6" />
<line x1="695" y1="297.6" x2="776" y2="297.6" stroke="#5a5a5a" stroke-width="2.6" />
<rect x="695.5" y="291" width="10.5" height="6.8" fill="#fff" stroke="#000" stroke-width="1.6" />
<rect x="706" y="292.6" width="84" height="3.8" fill="#fff" stroke="#666" stroke-width="1" />
<rect x="762.5" y="279.5" width="13.5" height="8" fill="#fff" stroke="#666" stroke-width="1.4" rx="2.5"/>
<rect x="775" y="286" width="6.5" height="15" fill="#fff" stroke="#666" stroke-width="1.3" rx="2"/>
<rect x="764.5" y="284" width="10.5" height="6" fill="#777" stroke="none" stroke-width="1" />
<rect x="777.5" y="191.5" width="5.5" height="8.5" fill="#fff" stroke="#666" stroke-width="1.2" />
<rect x="862" y="191" width="6.5" height="9" fill="#fff" stroke="#666" stroke-width="1.2" />
<path d="M780 199 Q779 214 786 226" fill="none" stroke="#646464" stroke-width="1.8" />
<path d="M785 223 L864 193.5 L865.5 197.5 L786.5 227 Z" fill="#fff" stroke="#4a4a4a" stroke-width="1.7" />
<path d="M786.5 217 L797 213 L798 215.5 L787.5 219.5 Z" fill="#666" stroke="none" stroke-width="1.6" />
<path d="M790 227.5 L800.5 223.5 L801.5 226 L791 230 Z" fill="#666" stroke="none" stroke-width="1.6" />
<rect x="1091" y="588.5" width="9.5" height="7.5" fill="#fff" stroke="#666" stroke-width="1.3" />
<rect x="1101" y="593.5" width="82.5" height="4.2" fill="#fff" stroke="#666" stroke-width="1.2" />
<rect x="1171" y="588.8" width="13" height="2.7" fill="#666" stroke="none" stroke-width="1" />
<rect x="1171" y="599" width="13" height="2.8" fill="#666" stroke="none" stroke-width="1" />
<path d="M1184.5 597 A 87 84 0 0 1 1098 680" fill="none" stroke="#646464" stroke-width="2.0" />
<rect x="1091" y="674" width="8.5" height="7" fill="#fff" stroke="#666" stroke-width="1.3" />
<line x1="347" y1="41" x2="347" y2="534" stroke="#5c5c5c" stroke-width="1.9" stroke-dasharray="29 4.5" />
<line x1="367" y1="41" x2="367" y2="534" stroke="#5c5c5c" stroke-width="1.9" stroke-dasharray="29 4.5" />
<rect x="347" y="41" width="20" height="16" fill="none" stroke="#666" stroke-width="1" />
<text transform="translate(358.5,462) rotate(-90) scale(0.86,1)" font-size="10.5" text-anchor="middle" dy="0.36em" fill="#666" font-style="italic" stroke="#666" stroke-width="0.3" >Retroussée</text>
<line x1="477" y1="760.7" x2="892" y2="760.7" stroke="#5c5c5c" stroke-width="1.9" stroke-dasharray="23 4.5" />
<line x1="477" y1="781.7" x2="892" y2="781.7" stroke="#5c5c5c" stroke-width="1.9" stroke-dasharray="23 4.5" />
<text transform="translate(547,772) scale(0.86,1)" font-size="10.5" text-anchor="middle" dy="0.36em" fill="#666" font-style="italic" stroke="#666" stroke-width="0.3" >Retroussée</text>
<line x1="906" y1="41" x2="906" y2="382" stroke="#5c5c5c" stroke-width="1.9" stroke-dasharray="22 4.5" />
<line x1="906" y1="409" x2="906" y2="585" stroke="#5c5c5c" stroke-width="1.9" stroke-dasharray="22 4.5" />
<line x1="929.5" y1="41" x2="929.5" y2="382" stroke="#5c5c5c" stroke-width="1.9" stroke-dasharray="22 4.5" />
<line x1="929.5" y1="409" x2="929.5" y2="585" stroke="#5c5c5c" stroke-width="1.9" stroke-dasharray="22 4.5" />
<rect x="906" y="41" width="23.5" height="16" fill="none" stroke="#666" stroke-width="1" />
<text transform="translate(919.5,122) rotate(-90) scale(0.86,1)" font-size="10.5" text-anchor="middle" dy="0.36em" fill="#666" font-style="italic" stroke="#666" stroke-width="0.3" >Retombée</text>
<text transform="translate(920,494.5) rotate(-90) scale(0.86,1)" font-size="10.5" text-anchor="middle" dy="0.36em" fill="#666" font-style="italic" stroke="#666" stroke-width="0.3" >Retombée</text>
<rect x="227" y="57.5" width="161" height="38.5" fill="none" stroke="#585858" stroke-width="2.2" stroke-dasharray="23 1.1 5 1.1"/>
<ellipse cx="307.2" cy="72.4" rx="18.5" ry="12" fill="none" stroke="#585858" stroke-width="1.7"/>
<rect x="260" y="65.5" width="94.5" height="5.5" fill="#626262" stroke="none" stroke-width="1" />
<line x1="262" y1="68.2" x2="352" y2="68.2" stroke="#8a8a8a" stroke-width="0.9" stroke-dasharray="3 2" />
<rect x="118.5" y="170" width="80.5" height="181" fill="none" stroke="#585858" stroke-width="1.6" stroke-dasharray="23 1.1 5 1.1"/>
<rect x="118.5" y="170" width="80.5" height="15" fill="none" stroke="#585858" stroke-width="1.6" rx="1.5" stroke-dasharray="23 1.1 5 1.1"/>
<rect x="118.5" y="336" width="80.5" height="15" fill="none" stroke="#585858" stroke-width="1.6" rx="1.5" stroke-dasharray="23 1.1 5 1.1"/>
<line x1="122.5" y1="185" x2="122.5" y2="336" stroke="#585858" stroke-width="1.6" stroke-dasharray="23 1.1 5 1.1" />
<line x1="137" y1="187" x2="137" y2="334" stroke="#585858" stroke-width="1.6" />
<line x1="148" y1="187" x2="148" y2="334" stroke="#585858" stroke-width="1.6" />
<rect x="122.5" y="186" width="76.5" height="74.5" fill="none" stroke="#585858" stroke-width="1.6" rx="2" stroke-dasharray="23 1.1 5 1.1"/>
<rect x="122.5" y="260.5" width="76.5" height="74.5" fill="none" stroke="#585858" stroke-width="1.6" rx="2" stroke-dasharray="23 1.1 5 1.1"/>
<circle cx="148" cy="260.5" r="1.3" fill="#585858" stroke="#585858" stroke-width="0.5"/>
<path d="M260.5 213.8 L362 209 L365 270 L262.5 274 Z" fill="none" stroke="#585858" stroke-width="1.6" stroke-dasharray="23 1.1 5 1.1" />
<path d="M276 274 L378 275 L367 333.5 L268 316 Z" fill="none" stroke="#585858" stroke-width="1.6" stroke-dasharray="23 1.1 5 1.1" />
<rect x="224" y="369.5" width="181.5" height="81.5" fill="none" stroke="#585858" stroke-width="1.6" rx="2" stroke-dasharray="23 1.1 5 1.1"/>
<rect x="224" y="369.5" width="15" height="81.5" fill="none" stroke="#585858" stroke-width="1.6" rx="2" stroke-dasharray="23 1.1 5 1.1"/>
<rect x="390" y="369.5" width="15.5" height="81.5" fill="none" stroke="#585858" stroke-width="1.6" rx="2" stroke-dasharray="23 1.1 5 1.1"/>
<rect x="239" y="370.5" width="75.5" height="76" fill="none" stroke="#585858" stroke-width="1.6" rx="2" stroke-dasharray="23 1.1 5 1.1"/>
<rect x="314.5" y="370.5" width="75.5" height="76" fill="none" stroke="#585858" stroke-width="1.6" rx="2" stroke-dasharray="23 1.1 5 1.1"/>
<line x1="239" y1="422" x2="390" y2="422" stroke="#585858" stroke-width="1.6" stroke-dasharray="23 1.1 5 1.1" />
<line x1="239" y1="432.8" x2="390" y2="432.8" stroke="#585858" stroke-width="1.6" stroke-dasharray="23 1.1 5 1.1" />
<circle cx="314.5" cy="422" r="1.3" fill="#585858" stroke="#585858" stroke-width="0.5"/>
<g transform="translate(618,506.7) rotate(0) scale(1,1.0)" fill="none" stroke="#606060" stroke-width="1.9"><path d="M-31 0 C-31 -22 -24 -30 0 -30 C24 -30 31 -22 31 0"/><path d="M-28 0 C-27 -9 -22 -14.5 0 -14.5 C22 -14.5 27 -9 28 0"/><path d="M-29.5 -6 C-22 -19 22 -19 29.5 -6"/></g>
<g transform="translate(687,506.7) rotate(0) scale(1,1.0)" fill="none" stroke="#606060" stroke-width="1.9"><path d="M-31 0 C-31 -22 -24 -30 0 -30 C24 -30 31 -22 31 0"/><path d="M-28 0 C-27 -9 -22 -14.5 0 -14.5 C22 -14.5 27 -9 28 0"/><path d="M-29.5 -6 C-22 -19 22 -19 29.5 -6"/></g>
<g transform="translate(624,587.7) rotate(180) scale(1,1.0)" fill="none" stroke="#606060" stroke-width="1.9"><path d="M-31 0 C-31 -22 -24 -30 0 -30 C24 -30 31 -22 31 0"/><path d="M-28 0 C-27 -9 -22 -14.5 0 -14.5 C22 -14.5 27 -9 28 0"/><path d="M-29.5 -6 C-22 -19 22 -19 29.5 -6"/></g>
<g transform="translate(693,587.7) rotate(180) scale(1,1.0)" fill="none" stroke="#606060" stroke-width="1.9"><path d="M-31 0 C-31 -22 -24 -30 0 -30 C24 -30 31 -22 31 0"/><path d="M-28 0 C-27 -9 -22 -14.5 0 -14.5 C22 -14.5 27 -9 28 0"/><path d="M-29.5 -6 C-22 -19 22 -19 29.5 -6"/></g>
<g transform="translate(573.9,544.3) rotate(-90) scale(1,1.13)" fill="none" stroke="#606060" stroke-width="1.9"><path d="M-31 0 C-31 -22 -24 -30 0 -30 C24 -30 31 -22 31 0"/><path d="M-28 0 C-27 -9 -22 -14.5 0 -14.5 C22 -14.5 27 -9 28 0"/><path d="M-29.5 -6 C-22 -19 22 -19 29.5 -6"/></g>
<g transform="translate(735.2,544.3) rotate(90) scale(1,1.2)" fill="none" stroke="#606060" stroke-width="1.9"><path d="M-31 0 C-31 -22 -24 -30 0 -30 C24 -30 31 -22 31 0"/><path d="M-28 0 C-27 -9 -22 -14.5 0 -14.5 C22 -14.5 27 -9 28 0"/><path d="M-29.5 -6 C-22 -19 22 -19 29.5 -6"/></g>
<rect x="573.9" y="506.7" width="161.3" height="81" fill="#fff" stroke="#585858" stroke-width="1.8" stroke-dasharray="23 1.1 5 1.1"/>
<rect x="555.5" y="711" width="182" height="91.5" fill="none" stroke="#585858" stroke-width="1.6" stroke-dasharray="23 1.1 5 1.1"/>
<path d="M476 915.5 L830.5 915.5 L830.5 714 L891 714" fill="none" stroke="#585858" stroke-width="1.6" stroke-dasharray="23 1.1 5 1.1" />
<line x1="830.5" y1="774" x2="891" y2="774" stroke="#585858" stroke-width="1.6" stroke-dasharray="23 1.1 5 1.1" />
<line x1="830.5" y1="834.5" x2="891" y2="834.5" stroke="#585858" stroke-width="1.6" stroke-dasharray="23 1.1 5 1.1" />
<text transform="translate(861,744) rotate(-90) scale(0.9,1)" font-size="11.8" text-anchor="middle" dy="0.36em" fill="#555" font-weight="bold" font-style="italic" >Four + MO</text>
<text transform="translate(861,804.5) rotate(-90) scale(0.9,1)" font-size="10.5" text-anchor="middle" dy="0.36em" fill="#555" font-style="italic" stroke="#555" stroke-width="0.3" >Frigo</text>
<rect x="834.5" y="845.5" width="52" height="58.5" fill="none" stroke="#585858" stroke-width="1.6" stroke-dasharray="23 1.1 5 1.1"/>
<circle cx="843" cy="851.6" r="2.3" fill="none" stroke="#585858" stroke-width="1.1"/>
<circle cx="850" cy="851.6" r="2.3" fill="none" stroke="#585858" stroke-width="1.1"/>
<circle cx="857" cy="851.6" r="2.3" fill="none" stroke="#585858" stroke-width="1.1"/>
<circle cx="864" cy="851.6" r="2.3" fill="none" stroke="#585858" stroke-width="1.1"/>
<circle cx="848" cy="867" r="6.8" fill="none" stroke="#585858" stroke-width="1.5"/>
<circle cx="871" cy="868.2" r="9" fill="none" stroke="#585858" stroke-width="1.5"/>
<circle cx="849.4" cy="888.2" r="8" fill="none" stroke="#585858" stroke-width="1.5"/>
<circle cx="871" cy="889.8" r="7" fill="none" stroke="#585858" stroke-width="1.5"/>
<rect x="693.8" y="922" width="81.7" height="50" fill="none" stroke="#646464" stroke-width="2.1" rx="3" stroke-dasharray="40 1.2"/>
<rect x="698.8" y="927" width="33.7" height="35.5" fill="none" stroke="#646464" stroke-width="2.1" rx="3" stroke-dasharray="40 1.2"/>
<rect x="735.5" y="927" width="35" height="35.5" fill="none" stroke="#646464" stroke-width="2.1" rx="3" stroke-dasharray="40 1.2"/>
<rect x="733.2" y="944" width="2.6" height="16" fill="#666" stroke="none" stroke-width="1" />
<rect x="732" y="958" width="5.5" height="14" fill="#606060" stroke="none" stroke-width="1" />
<circle cx="734.5" cy="948" r="1.6" fill="#666" stroke="#585858" stroke-width="0.5"/>
<line x1="470" y1="841" x2="893" y2="841" stroke="#9a9a9a" stroke-width="1.8" />
<line x1="472" y1="845" x2="480" y2="837" stroke="#9a9a9a" stroke-width="1.2" />
<line x1="476" y1="834" x2="476" y2="848" stroke="#9a9a9a" stroke-width="1.2" />
<line x1="887" y1="845" x2="895" y2="837" stroke="#9a9a9a" stroke-width="1.2" />
<text transform="translate(682.5,829) scale(0.82,1)" font-size="21.3" text-anchor="middle" dy="0.36em" fill="#9a9a9a" stroke="#9a9a9a" stroke-width="0.35" >4,12</text>
<line x1="906" y1="608" x2="961" y2="606.5" stroke="#555" stroke-width="1.3" stroke-dasharray="23 1.1 5 1.1" />
<line x1="906" y1="618.6" x2="961" y2="616.5" stroke="#555" stroke-width="1.3" stroke-dasharray="23 1.1 5 1.1" />
<line x1="906" y1="628.5" x2="961" y2="627" stroke="#555" stroke-width="1.3" stroke-dasharray="23 1.1 5 1.1" />
<line x1="906" y1="633" x2="961" y2="644.5" stroke="#555" stroke-width="1.3" />
<line x1="906" y1="641.5" x2="961" y2="655" stroke="#555" stroke-width="1.3" />
<line x1="906" y1="656.5" x2="961" y2="661" stroke="#555" stroke-width="1.3" stroke-dasharray="23 1.1 5 1.1" />
<line x1="906" y1="664.5" x2="961" y2="673.5" stroke="#555" stroke-width="1.3" />
<line x1="906" y1="679" x2="961" y2="679" stroke="#555" stroke-width="1.3" stroke-dasharray="23 1.1 5 1.1" />
<line x1="906" y1="690" x2="961" y2="687" stroke="#555" stroke-width="1.3" stroke-dasharray="23 1.1 5 1.1" />
<line x1="906" y1="693" x2="961" y2="704" stroke="#555" stroke-width="1.3" />
<line x1="906" y1="708" x2="961" y2="706" stroke="#555" stroke-width="1.3" stroke-dasharray="23 1.1 5 1.1" />
<line x1="906" y1="711" x2="961" y2="725.5" stroke="#555" stroke-width="1.3" />
<line x1="906" y1="729" x2="961" y2="729" stroke="#555" stroke-width="1.3" stroke-dasharray="23 1.1 5 1.1" />
<line x1="906" y1="592" x2="906" y2="744" stroke="#5c5c5c" stroke-width="1.6" stroke-dasharray="29 4.5" />
<rect x="928.6" y="592" width="3.8" height="152" fill="#666" stroke="none" stroke-width="1" />
<rect x="906" y="382.5" width="24" height="26" fill="#7c7c7c" stroke="#000" stroke-width="3" />
<path d="M907.5 384 L928.5 407 M928.5 384 L907.5 407" fill="none" stroke="#a8a8a8" stroke-width="1" />
<rect x="568.8" y="157" width="50" height="120.5" fill="none" stroke="#585858" stroke-width="1.6" stroke-dasharray="23 1.1 5 1.1"/>
<rect x="575" y="164" width="34.5" height="45.5" fill="none" stroke="#585858" stroke-width="1.9" stroke-dasharray="23 1.1 5 1.1"/>
<rect x="575" y="224" width="34.5" height="46" fill="none" stroke="#585858" stroke-width="1.9" stroke-dasharray="23 1.1 5 1.1"/>
<rect x="570" y="184.9" width="12" height="3.2" fill="#666" stroke="none" stroke-width="1" rx="1.5"/>
<circle cx="573.5" cy="186.5" r="2.2" fill="#888" stroke="#585858" stroke-width="1"/>
<circle cx="580.5" cy="186.5" r="2.2" fill="#888" stroke="#585858" stroke-width="1"/>
<rect x="570" y="244.9" width="12" height="3.2" fill="#666" stroke="none" stroke-width="1" rx="1.5"/>
<circle cx="573.5" cy="246.5" r="2.2" fill="#888" stroke="#585858" stroke-width="1"/>
<circle cx="580.5" cy="246.5" r="2.2" fill="#888" stroke="#585858" stroke-width="1"/>
<text transform="translate(594,217) rotate(-90) scale(0.85,1)" font-size="10.8" text-anchor="middle" dy="0.36em" fill="#666" font-style="italic" stroke="#666" stroke-width="0.3" >Attentes</text>
<path d="M687.5 57.5 Q688 76 697.5 86 L747.5 58" fill="none" stroke="#646464" stroke-width="1.9" />
<path d="M855.5 57.5 Q855 76 846 86.5 L794.5 58" fill="none" stroke="#646464" stroke-width="1.9" />
<path d="M805 74 L805 100 C805 114 812 121.3 822.3 121.3 C833 121.3 840 114 840 100 L840 74 Z" fill="#fff" stroke="#666" stroke-width="2" />
<path d="M801.5 59 L842.5 59 Q845 59 845 62 L845 69 Q845 75.5 838 75.5 L806 75.5 Q799.3 75.5 799.3 69 L799.3 62 Q799.3 59 801.5 59 Z" fill="#fff" stroke="#606060" stroke-width="1.7" />
<circle cx="822.4" cy="64" r="1.7" fill="#666" stroke="#585858" stroke-width="0.5"/>
<path d="M1100 57 L1172 98 Q1179 80 1182.5 57.5" fill="none" stroke="#646464" stroke-width="2.0" />
<path d="M1264 57 L1193 98 Q1186 80 1182.5 57.5" fill="none" stroke="#646464" stroke-width="2.0" />
<line x1="560" y1="85" x2="1371" y2="85" stroke="#5e5e5e" stroke-width="1.8" />
<line x1="558" y1="91" x2="570" y2="79" stroke="#5e5e5e" stroke-width="1.3" />
<line x1="762.5" y1="91" x2="774.5" y2="79" stroke="#5e5e5e" stroke-width="1.3" />
<line x1="869.5" y1="91" x2="881.5" y2="79" stroke="#5e5e5e" stroke-width="1.3" />
<line x1="1031.5" y1="91" x2="1043.5" y2="79" stroke="#5e5e5e" stroke-width="1.3" />
<line x1="1349" y1="91" x2="1361" y2="79" stroke="#5e5e5e" stroke-width="1.3" />
<line x1="560.5" y1="80" x2="560.5" y2="90" stroke="#5e5e5e" stroke-width="1" />
<line x1="763" y1="80" x2="763" y2="90" stroke="#5e5e5e" stroke-width="1" />
<line x1="774.5" y1="80" x2="774.5" y2="90" stroke="#5e5e5e" stroke-width="1" />
<line x1="870.5" y1="80" x2="870.5" y2="90" stroke="#5e5e5e" stroke-width="1" />
<line x1="880.5" y1="80" x2="880.5" y2="90" stroke="#5e5e5e" stroke-width="1" />
<line x1="1032" y1="80" x2="1032" y2="90" stroke="#5e5e5e" stroke-width="1" />
<line x1="1042.5" y1="80" x2="1042.5" y2="90" stroke="#5e5e5e" stroke-width="1" />
<line x1="1355" y1="80" x2="1355" y2="90" stroke="#5e5e5e" stroke-width="1" />
<text transform="translate(657,73.8) scale(0.82,1)" font-size="21.3" text-anchor="middle" dy="0.36em" fill="#5e5e5e" stroke="#5e5e5e" stroke-width="0.35" >1,95</text>
<text transform="translate(751,73.8) scale(0.82,1)" font-size="21.3" text-anchor="middle" dy="0.36em" fill="#5e5e5e" stroke="#5e5e5e" stroke-width="0.35" >10</text>
<text transform="translate(822.5,73.8) scale(0.82,1)" font-size="21.3" text-anchor="middle" dy="0.36em" fill="#5e5e5e" stroke="#5e5e5e" stroke-width="0.35" >95</text>
<text transform="translate(890,73.8) scale(0.82,1)" font-size="21.3" text-anchor="middle" dy="0.36em" fill="#5e5e5e" stroke="#5e5e5e" stroke-width="0.35" >10</text>
<text transform="translate(956,73.8) scale(0.82,1)" font-size="21.3" text-anchor="middle" dy="0.36em" fill="#5e5e5e" stroke="#5e5e5e" stroke-width="0.35" >1,50</text>
<text transform="translate(1018,73.8) scale(0.82,1)" font-size="21.3" text-anchor="middle" dy="0.36em" fill="#5e5e5e" stroke="#5e5e5e" stroke-width="0.35" >10</text>
<text transform="translate(1197.5,73.8) scale(0.82,1)" font-size="21.3" text-anchor="middle" dy="0.36em" fill="#5e5e5e" stroke="#5e5e5e" stroke-width="0.35" >3,10</text>
<line x1="522" y1="50" x2="522" y2="306" stroke="#5e5e5e" stroke-width="1.8" />
<line x1="516" y1="63" x2="528" y2="51" stroke="#5e5e5e" stroke-width="1.3" />
<line x1="516" y1="305" x2="528" y2="293" stroke="#5e5e5e" stroke-width="1.3" />
<line x1="512" y1="299" x2="532" y2="299" stroke="#5e5e5e" stroke-width="1.2" />
<text transform="translate(511.8,177.5) rotate(-90) scale(0.82,1)" font-size="21.3" text-anchor="middle" dy="0.36em" fill="#5e5e5e" stroke="#5e5e5e" stroke-width="0.35" >2,40</text>
<line x1="561" y1="296" x2="383" y2="534" stroke="#5e5e5e" stroke-width="1.8" />
<line x1="555" y1="291" x2="567" y2="301" stroke="#5e5e5e" stroke-width="1.2" />
<line x1="555" y1="301" x2="567" y2="291" stroke="#5e5e5e" stroke-width="1.2" />
<line x1="561" y1="289" x2="561" y2="303" stroke="#5e5e5e" stroke-width="1" />
<line x1="377" y1="529" x2="389" y2="539" stroke="#5e5e5e" stroke-width="1.2" />
<line x1="377" y1="539" x2="389" y2="529" stroke="#5e5e5e" stroke-width="1.2" />
<line x1="383" y1="527" x2="383" y2="541" stroke="#5e5e5e" stroke-width="1" />
<text transform="translate(463.5,410.5) rotate(-53.2) scale(0.82,1)" font-size="21.3" text-anchor="middle" dy="0.36em" fill="#5e5e5e" stroke="#5e5e5e" stroke-width="0.35" >2,90</text>
<line x1="881" y1="115.5" x2="1032" y2="115.5" stroke="#707070" stroke-width="3.4" stroke-dasharray="13 2" />
<line x1="893" y1="62" x2="885" y2="112" stroke="#666" stroke-width="1.9" stroke-dasharray="17 2.5 10 3" />
<line x1="902.5" y1="62" x2="896.5" y2="112" stroke="#666" stroke-width="1.9" stroke-dasharray="17 2.5 10 3" />
<line x1="910.5" y1="62" x2="909.5" y2="112" stroke="#666" stroke-width="1.9" stroke-dasharray="17 2.5 10 3" />
<line x1="925.5" y1="62" x2="919.5" y2="112" stroke="#666" stroke-width="1.9" stroke-dasharray="17 2.5 10 3" />
<line x1="934" y1="62" x2="928" y2="112" stroke="#666" stroke-width="1.9" stroke-dasharray="17 2.5 10 3" />
<line x1="950" y1="62" x2="941" y2="112" stroke="#666" stroke-width="1.9" stroke-dasharray="17 2.5 10 3" />
<line x1="958.5" y1="62" x2="952.5" y2="112" stroke="#666" stroke-width="1.9" stroke-dasharray="17 2.5 10 3" />
<line x1="971.5" y1="62" x2="962.5" y2="112" stroke="#666" stroke-width="1.9" stroke-dasharray="17 2.5 10 3" />
<line x1="984" y1="62" x2="974" y2="112" stroke="#666" stroke-width="1.9" stroke-dasharray="17 2.5 10 3" />
<line x1="990" y1="62" x2="984" y2="112" stroke="#666" stroke-width="1.9" stroke-dasharray="17 2.5 10 3" />
<line x1="1003.5" y1="62" x2="995.5" y2="112" stroke="#666" stroke-width="1.9" stroke-dasharray="17 2.5 10 3" />
<line x1="1014" y1="62" x2="1004" y2="112" stroke="#666" stroke-width="1.9" stroke-dasharray="17 2.5 10 3" />
<line x1="1023.5" y1="62" x2="1015.5" y2="112" stroke="#666" stroke-width="1.9" stroke-dasharray="17 2.5 10 3" />
<line x1="1035.5" y1="62" x2="1025.5" y2="112" stroke="#666" stroke-width="1.9" stroke-dasharray="17 2.5 10 3" />
<line x1="881" y1="340.7" x2="1032" y2="340.7" stroke="#707070" stroke-width="3.4" stroke-dasharray="40 1.5" />
<line x1="881" y1="369.5" x2="1032" y2="369.5" stroke="#666" stroke-width="1.2" />
<line x1="890" y1="346" x2="900" y2="394" stroke="#666" stroke-width="1.8" stroke-dasharray="20 2 12 3" />
<line x1="898" y1="346" x2="904" y2="394" stroke="#666" stroke-width="1.8" stroke-dasharray="20 2 12 3" />
<line x1="910" y1="346" x2="913" y2="394" stroke="#666" stroke-width="1.8" stroke-dasharray="20 2 12 3" />
<line x1="920" y1="346" x2="928" y2="394" stroke="#666" stroke-width="1.8" stroke-dasharray="20 2 12 3" />
<line x1="930" y1="346" x2="933" y2="394" stroke="#666" stroke-width="1.8" stroke-dasharray="20 2 12 3" />
<line x1="942" y1="346" x2="946" y2="394" stroke="#666" stroke-width="1.8" stroke-dasharray="20 2 12 3" />
<line x1="954" y1="346" x2="958" y2="394" stroke="#666" stroke-width="1.8" stroke-dasharray="20 2 12 3" />
<line x1="966" y1="346" x2="972" y2="394" stroke="#666" stroke-width="1.8" stroke-dasharray="20 2 12 3" />
<line x1="978" y1="346" x2="984" y2="394" stroke="#666" stroke-width="1.8" stroke-dasharray="20 2 12 3" />
<line x1="988" y1="346" x2="991" y2="394" stroke="#666" stroke-width="1.8" stroke-dasharray="20 2 12 3" />
<line x1="1002" y1="346" x2="1008" y2="394" stroke="#666" stroke-width="1.8" stroke-dasharray="20 2 12 3" />
<line x1="1014" y1="346" x2="1017" y2="394" stroke="#666" stroke-width="1.8" stroke-dasharray="20 2 12 3" />
<rect x="1152.8" y="147.5" width="201.2" height="162.5" fill="none" stroke="#585858" stroke-width="1.5" stroke-dasharray="23 1.1 5 1.1"/>
<rect x="1306" y="155" width="43" height="67.5" fill="none" stroke="#585858" stroke-width="1.6" stroke-dasharray="23 1.1 5 1.1"/>
<rect x="1306" y="235" width="43" height="69" fill="none" stroke="#585858" stroke-width="1.6" stroke-dasharray="23 1.1 5 1.1"/>
<path d="M1156 150.8 L1291 150.8 L1310 170 L1310 288.8 L1291.5 306.2 L1156 306.2 Z" fill="#fff" stroke="#585858" stroke-width="1.5" stroke-dasharray="23 1.1 5 1.1" />
<path d="M1291 150.8 L1291 170 L1310 170" fill="none" stroke="#585858" stroke-width="1.3" stroke-dasharray="6 1.5" />
<path d="M1291.5 306.2 L1291.5 288.8 L1310 288.8" fill="none" stroke="#585858" stroke-width="1.3" stroke-dasharray="6 1.5" />
<path d="M1161 497 L1161 409 L1352 409" fill="none" stroke="#6a6a6a" stroke-width="2.0" />
<line x1="1185.4" y1="409" x2="1185.4" y2="496" stroke="#6a6a6a" stroke-width="2.2" />
<line x1="1209.7" y1="409" x2="1209.7" y2="496" stroke="#6a6a6a" stroke-width="2.2" />
<line x1="1161" y1="450.7" x2="1279.6" y2="450.7" stroke="#6a6a6a" stroke-width="1.5" />
<path d="M1269.5 427.5 L1279.6 451.5 L1253 466" fill="none" stroke="#6a6a6a" stroke-width="1.5" />
<line x1="1246" y1="409" x2="1221" y2="496" stroke="#6a6a6a" stroke-width="2.4" />
<line x1="1282.7" y1="409" x2="1233" y2="496" stroke="#6a6a6a" stroke-width="2.4" />
<line x1="1308" y1="409" x2="1243" y2="496" stroke="#6a6a6a" stroke-width="2.4" />
<line x1="1321.5" y1="409" x2="1250.5" y2="496" stroke="#6a6a6a" stroke-width="1.7" />
<line x1="1325.5" y1="409" x2="1254.5" y2="496" stroke="#6a6a6a" stroke-width="1.7" />
<rect x="1151" y="494.5" width="113.5" height="9" fill="#6e6e6e" stroke="none" stroke-width="1" />
<line x1="1153" y1="499.8" x2="1262" y2="499.8" stroke="#9a9a9a" stroke-width="1.6" stroke-dasharray="3 3.6" />
<line x1="1151" y1="503" x2="1151" y2="587" stroke="#6a6a6a" stroke-width="1.6" />
<line x1="1151" y1="586.8" x2="1353" y2="586.8" stroke="#6a6a6a" stroke-width="3.0" stroke-dasharray="6.5 3.2" />
<line x1="1352.6" y1="409" x2="1352.6" y2="587" stroke="#6a6a6a" stroke-width="2.6" stroke-dasharray="6.5 3.2" />
<line x1="1174.2" y1="503" x2="1174.2" y2="587" stroke="#6a6a6a" stroke-width="2.6" stroke-dasharray="6.5 3.2" />
<line x1="1198.6" y1="503" x2="1198.6" y2="587" stroke="#6a6a6a" stroke-width="2.6" stroke-dasharray="6.5 3.2" />
<line x1="1264.4" y1="499" x2="1352.6" y2="438.6" stroke="#6a6a6a" stroke-width="2.4" stroke-dasharray="6.5 3.2" />
<line x1="1264.4" y1="499" x2="1352.6" y2="486.2" stroke="#6a6a6a" stroke-width="2.4" stroke-dasharray="6.5 3.2" />
<line x1="1264.4" y1="499" x2="1352.6" y2="527.8" stroke="#6a6a6a" stroke-width="2.4" stroke-dasharray="6.5 3.2" />
<line x1="1264.4" y1="497" x2="1331" y2="409" stroke="#6a6a6a" stroke-width="2.2" stroke-dasharray="6.5 3.2" />
<line x1="1209.7" y1="504" x2="1233" y2="578" stroke="#6a6a6a" stroke-width="2.6" stroke-dasharray="6.5 3.2" />
<line x1="1224" y1="504" x2="1270.5" y2="586" stroke="#6a6a6a" stroke-width="2.6" stroke-dasharray="6.5 3.2" />
<line x1="1238" y1="504" x2="1309" y2="586" stroke="#6a6a6a" stroke-width="2.6" stroke-dasharray="6.5 3.2" />
<line x1="1252" y1="504" x2="1352" y2="575.4" stroke="#6a6a6a" stroke-width="2.6" stroke-dasharray="6.5 3.2" />
<path d="M1151 546 L1270.5 546 A 49 49 0 0 0 1292 459" fill="none" stroke="#6a6a6a" stroke-width="1.9" stroke-dasharray="6.5 3.2" />
<path d="M1171 525.7 L1151.5 546 L1171 566" fill="none" stroke="#6a6a6a" stroke-width="1.9" stroke-dasharray="6 3" />
<text transform="translate(1172,421) rotate(-90) scale(0.9,1)" font-size="6.5" text-anchor="middle" dy="0.36em" fill="#666" stroke="#666" stroke-width="0.3" >1</text>
<text transform="translate(1197,421) rotate(-90) scale(0.9,1)" font-size="6.5" text-anchor="middle" dy="0.36em" fill="#666" stroke="#666" stroke-width="0.3" >2</text>
<text transform="translate(1226,421) rotate(-90) scale(0.9,1)" font-size="6.5" text-anchor="middle" dy="0.36em" fill="#666" stroke="#666" stroke-width="0.3" >3</text>
<text transform="translate(1259,421) rotate(-90) scale(0.9,1)" font-size="6.5" text-anchor="middle" dy="0.36em" fill="#666" stroke="#666" stroke-width="0.3" >4</text>
<text transform="translate(1296,421) rotate(-90) scale(0.9,1)" font-size="6.5" text-anchor="middle" dy="0.36em" fill="#666" stroke="#666" stroke-width="0.3" >5</text>
<text transform="translate(1340.4,424) rotate(-90) scale(0.9,1)" font-size="6.5" text-anchor="middle" dy="0.36em" fill="#666" stroke="#666" stroke-width="0.3" >6</text>
<text transform="translate(1340,466) rotate(-90) scale(0.9,1)" font-size="6.5" text-anchor="middle" dy="0.36em" fill="#666" stroke="#666" stroke-width="0.3" >7</text>
<text transform="translate(1340,505.5) rotate(-90) scale(0.9,1)" font-size="6.5" text-anchor="middle" dy="0.36em" fill="#666" stroke="#666" stroke-width="0.3" >8</text>
<text transform="translate(1340,546) rotate(-90) scale(0.9,1)" font-size="6.5" text-anchor="middle" dy="0.36em" fill="#666" stroke="#666" stroke-width="0.3" >9</text>
<text transform="translate(1330,572) rotate(-90) scale(0.9,1)" font-size="6.5" text-anchor="middle" dy="0.36em" fill="#666" stroke="#666" stroke-width="0.3" >10</text>
<text transform="translate(1282.7,572) rotate(-90) scale(0.9,1)" font-size="6.5" text-anchor="middle" dy="0.36em" fill="#666" stroke="#666" stroke-width="0.3" >11</text>
<text transform="translate(1249,572) rotate(-90) scale(0.9,1)" font-size="6.5" text-anchor="middle" dy="0.36em" fill="#666" stroke="#666" stroke-width="0.3" >12</text>
<text transform="translate(1215.8,572) rotate(-90) scale(0.9,1)" font-size="6.5" text-anchor="middle" dy="0.36em" fill="#666" stroke="#666" stroke-width="0.3" >13</text>
<text transform="translate(1186.8,572) rotate(-90) scale(0.9,1)" font-size="6.5" text-anchor="middle" dy="0.36em" fill="#666" stroke="#666" stroke-width="0.3" >14</text>
<text transform="translate(1162,572) rotate(-90) scale(0.9,1)" font-size="6.5" text-anchor="middle" dy="0.36em" fill="#666" stroke="#666" stroke-width="0.3" >15</text>
<text transform="translate(1254,436) scale(0.86,1)" font-size="10.9" text-anchor="middle" dy="0.36em" fill="#9a9a9a" font-style="italic" stroke="#9a9a9a" stroke-width="0.3" >Escalier avec contre-marches</text>
<rect x="1104.5" y="684" width="122.5" height="59" fill="#fff" stroke="#585858" stroke-width="1.6" stroke-dasharray="23 1.1 5 1.1"/>
<line x1="1166" y1="684" x2="1166" y2="743" stroke="#585858" stroke-width="1.6" />
<text transform="translate(1135.5,713.6) scale(0.93,1)" font-size="17.8" text-anchor="middle" dy="0.36em" fill="#666" stroke="#666" stroke-width="0.3" >SL</text>
<text transform="translate(1196.5,713.6) scale(0.93,1)" font-size="17.8" text-anchor="middle" dy="0.36em" fill="#666" stroke="#666" stroke-width="0.3" >ML</text>
<rect x="1339" y="693" width="15" height="50.5" fill="none" stroke="#585858" stroke-width="1.6" stroke-dasharray="23 1.1 5 1.1"/>
<text transform="translate(1347.5,718.5) rotate(-90) scale(0.85,1)" font-size="12" text-anchor="middle" dy="0.36em" fill="#555" stroke="#555" stroke-width="0.3" >Plomb.</text>
<path d="M1249 743 Q1249 724 1255 712 L1310.5 742.5" fill="none" stroke="#646464" stroke-width="2.0" />
<rect x="1392" y="688.3" width="25.6" height="105.5" fill="#fff" stroke="#646464" stroke-width="1.9" />
<line x1="1392" y1="723.8" x2="1417.6" y2="723.8" stroke="#646464" stroke-width="1.9" />
<line x1="1392" y1="758.5" x2="1417.6" y2="758.5" stroke="#646464" stroke-width="1.9" />
<circle cx="1399" cy="713.5" r="4.4" fill="none" stroke="#5a5a5a" stroke-width="2"/>
<circle cx="1399" cy="713.5" r="1.4" fill="#5a5a5a" stroke="#585858" stroke-width="0.6"/>
<line x1="1391" y1="713.5" x2="1407" y2="713.5" stroke="#5a5a5a" stroke-width="1.5" />
<line x1="1399" y1="705" x2="1399" y2="722" stroke="#5a5a5a" stroke-width="1.5" />
<text transform="translate(1404.6,741) rotate(-90) scale(0.76,1)" font-size="11.5" text-anchor="middle" dy="0.36em" fill="#555" stroke="#555" stroke-width="0.3" >TGBT</text>
<path d="M1392 759.5 L1397 761.5 L1391.5 764.4 L1397 767.3 L1391.5 770.2 L1397 773.1 L1391.5 776 L1397 778.9 L1391.5 781.8 L1397 784.7 L1391.5 787.6 L1397 790.5 L1392 794" fill="none" stroke="#666" stroke-width="2.6" />
<rect x="1392.6" y="80.5" width="91.2" height="90.5" fill="none" stroke="#585858" stroke-width="1.6" stroke-dasharray="23 1.1 5 1.1"/>
<text transform="translate(1437,125) scale(0.88,1)" font-size="13.3" text-anchor="middle" dy="0.36em" fill="#555" stroke="#555" stroke-width="0.3" >PAC</text>
<rect x="1711" y="-3" width="122" height="30.5" fill="none" stroke="#6c6c6c" stroke-width="1.9" />
<rect x="1732" y="-3" width="80" height="24.5" fill="none" stroke="#6c6c6c" stroke-width="1.9" />
<text transform="translate(1771.7,1.5) scale(0.88,1)" font-size="9.5" text-anchor="middle" dy="0.36em" fill="#666" stroke="#666" stroke-width="0.3" >PAC</text>
<rect x="1450" y="645" width="303" height="204" fill="none" stroke="#6a6a6a" stroke-width="2.1" stroke-dasharray="7.5 3.5"/>
<rect x="1566" y="717.6" width="71" height="50.4" fill="none" stroke="#6a6a6a" stroke-width="2.1" stroke-dasharray="7.5 3.5"/>
<line x1="1450" y1="645" x2="1637" y2="768" stroke="#6a6a6a" stroke-width="2.1" stroke-dasharray="7.5 3.5" />
<line x1="1753" y1="645" x2="1566" y2="768" stroke="#6a6a6a" stroke-width="2.1" stroke-dasharray="7.5 3.5" />
<line x1="1450" y1="849" x2="1566" y2="768" stroke="#6a6a6a" stroke-width="2.1" stroke-dasharray="7.5 3.5" />
<line x1="1753" y1="849" x2="1637" y2="768" stroke="#6a6a6a" stroke-width="2.1" stroke-dasharray="7.5 3.5" />
<text transform="translate(1601,735.4) scale(0.88,1)" font-size="13.3" text-anchor="middle" dy="0.36em" fill="#666" stroke="#666" stroke-width="0.3" >Trappe</text>
<text transform="translate(1601,751.5) scale(0.88,1)" font-size="13.3" text-anchor="middle" dy="0.36em" fill="#666" stroke="#666" stroke-width="0.3" >accès VS</text>
<text transform="translate(666,172) scale(0.97,1)" font-size="14" text-anchor="middle" dy="0.36em" fill="#000" font-weight="bold" >S.d'eau</text>
<text transform="translate(666,187.7) scale(0.97,1)" font-size="14" text-anchor="middle" dy="0.36em" fill="#000" font-weight="bold" >Carrelage</text>
<text transform="translate(666,203.4) scale(0.97,1)" font-size="11.4" text-anchor="middle" dy="0.36em" fill="#000" stroke="#000" stroke-width="0.22" >SU : 4,42 m²</text>
<text transform="translate(666,219.1) scale(0.97,1)" font-size="11.4" text-anchor="middle" dy="0.36em" fill="#000" stroke="#000" stroke-width="0.22" >SH : 4,42 m²</text>
<text transform="translate(666,254.5) scale(0.88,1)" font-size="10.5" text-anchor="middle" dy="0.36em" fill="#666" font-style="italic" stroke="#666" stroke-width="0.3" >HSP 250</text>
<text transform="translate(824.5,100) scale(0.97,1)" font-size="14" text-anchor="middle" dy="0.36em" fill="#000" font-weight="bold" >WC</text>
<text transform="translate(824.5,116) scale(0.97,1)" font-size="14" text-anchor="middle" dy="0.36em" fill="#000" font-weight="bold" >Carrelage</text>
<text transform="translate(824.5,132) scale(0.97,1)" font-size="11.4" text-anchor="middle" dy="0.36em" fill="#000" stroke="#000" stroke-width="0.22" >SU : 1,26 m²</text>
<text transform="translate(824.5,148) scale(0.97,1)" font-size="11.4" text-anchor="middle" dy="0.36em" fill="#000" stroke="#000" stroke-width="0.22" >SH : 1,26 m²</text>
<text transform="translate(824.5,171) scale(0.88,1)" font-size="10.5" text-anchor="middle" dy="0.36em" fill="#666" font-style="italic" stroke="#666" stroke-width="0.3" >HSP 250</text>
<text transform="translate(822.5,220) scale(0.97,1)" font-size="14" text-anchor="middle" dy="0.36em" fill="#000" font-weight="bold" >Dgt.</text>
<text transform="translate(822.5,235.5) scale(0.97,1)" font-size="14" text-anchor="middle" dy="0.36em" fill="#000" font-weight="bold" >Carrelage</text>
<text transform="translate(822.5,251) scale(0.97,1)" font-size="11.4" text-anchor="middle" dy="0.36em" fill="#000" stroke="#000" stroke-width="0.22" >SU : 0,85 m²</text>
<text transform="translate(822.5,266.5) scale(0.97,1)" font-size="11.4" text-anchor="middle" dy="0.36em" fill="#000" stroke="#000" stroke-width="0.22" >SH : 0,85 m²</text>
<text transform="translate(822.5,282) scale(0.88,1)" font-size="10.5" text-anchor="middle" dy="0.36em" fill="#666" font-style="italic" stroke="#666" stroke-width="0.3" >HSP 250</text>
<text transform="translate(956,190) scale(0.97,1)" font-size="14" text-anchor="middle" dy="0.36em" fill="#000" font-weight="bold" >Dressing</text>
<text transform="translate(956,205.6) scale(0.97,1)" font-size="14" text-anchor="middle" dy="0.36em" fill="#000" font-weight="bold" >Chape</text>
<text transform="translate(956,221.2) scale(0.97,1)" font-size="11.4" text-anchor="middle" dy="0.36em" fill="#000" stroke="#000" stroke-width="0.22" >SU : 5,07 m²</text>
<text transform="translate(956,236.8) scale(0.97,1)" font-size="11.4" text-anchor="middle" dy="0.36em" fill="#000" stroke="#000" stroke-width="0.22" >SH : 5,07 m²</text>
<text transform="translate(956,260) scale(0.88,1)" font-size="10.5" text-anchor="middle" dy="0.36em" fill="#666" font-style="italic" stroke="#666" stroke-width="0.3" >HSP 250</text>
<text transform="translate(1198,189.5) scale(0.97,1)" font-size="14" text-anchor="middle" dy="0.36em" fill="#000" font-weight="bold" >Chambre 01</text>
<text transform="translate(1198,205.3) scale(0.97,1)" font-size="14" text-anchor="middle" dy="0.36em" fill="#000" font-weight="bold" >Chape</text>
<text transform="translate(1198,221.1) scale(0.97,1)" font-size="11.4" text-anchor="middle" dy="0.36em" fill="#000" stroke="#000" stroke-width="0.22" >SU : 10,57 m²</text>
<text transform="translate(1198,236.9) scale(0.97,1)" font-size="11.4" text-anchor="middle" dy="0.36em" fill="#000" stroke="#000" stroke-width="0.22" >SH : 10,57 m²</text>
<text transform="translate(1198,260) scale(0.88,1)" font-size="10.5" text-anchor="middle" dy="0.36em" fill="#666" font-style="italic" stroke="#666" stroke-width="0.3" >HSP 250</text>
<text transform="translate(677,520.6) scale(0.97,1)" font-size="14" text-anchor="middle" dy="0.36em" fill="#000" font-weight="bold" >Pièce à vivre</text>
<text transform="translate(677,536.4) scale(0.97,1)" font-size="14" text-anchor="middle" dy="0.36em" fill="#000" font-weight="bold" >Carrelage</text>
<text transform="translate(677,552.2) scale(0.97,1)" font-size="11.4" text-anchor="middle" dy="0.36em" fill="#000" stroke="#000" stroke-width="0.22" >SU : 52,33 m²</text>
<text transform="translate(677,568) scale(0.97,1)" font-size="11.4" text-anchor="middle" dy="0.36em" fill="#000" stroke="#000" stroke-width="0.22" >SH : 52,33 m²</text>
<text transform="translate(654.5,627.7) scale(0.88,1)" font-size="10.5" text-anchor="middle" dy="0.36em" fill="#666" font-style="italic" stroke="#666" stroke-width="0.3" >HSP 250</text>
<text transform="translate(1024,533) scale(0.97,1)" font-size="14" text-anchor="middle" dy="0.36em" fill="#000" font-weight="bold" >Entrée / Dgt.</text>
<text transform="translate(1024,549) scale(0.97,1)" font-size="14" text-anchor="middle" dy="0.36em" fill="#000" font-weight="bold" >Carrelage</text>
<text transform="translate(1024,565) scale(0.97,1)" font-size="11.4" text-anchor="middle" dy="0.36em" fill="#000" stroke="#000" stroke-width="0.22" >SU : 5,83 m²</text>
<text transform="translate(1024,581) scale(0.97,1)" font-size="11.4" text-anchor="middle" dy="0.36em" fill="#000" stroke="#000" stroke-width="0.22" >SH : 5,83 m²</text>
<text transform="translate(1024,618) scale(0.88,1)" font-size="10.5" text-anchor="middle" dy="0.36em" fill="#666" font-style="italic" stroke="#666" stroke-width="0.3" >HSP 250</text>
<text transform="translate(1227,586) scale(0.97,1)" font-size="14" text-anchor="middle" dy="0.36em" fill="#000" font-weight="bold" >Cellier</text>
<text transform="translate(1227,602) scale(0.97,1)" font-size="14" text-anchor="middle" dy="0.36em" fill="#000" font-weight="bold" >Carrelage</text>
<text transform="translate(1227,618) scale(0.97,1)" font-size="11.4" text-anchor="middle" dy="0.36em" fill="#000" stroke="#000" stroke-width="0.22" >SU : 7,76 m²</text>
<text transform="translate(1227,634) scale(0.97,1)" font-size="11.4" text-anchor="middle" dy="0.36em" fill="#000" stroke="#000" stroke-width="0.22" >SH : 4,88 m²</text>
<text transform="translate(1227,659) scale(0.88,1)" font-size="10.5" text-anchor="middle" dy="0.36em" fill="#666" font-style="italic" stroke="#666" stroke-width="0.3" >HSP 250</text>
<text transform="translate(1591,458) scale(0.97,1)" font-size="14" text-anchor="middle" dy="0.36em" fill="#000" font-weight="bold" >Garage</text>
<text transform="translate(1591,473.7) scale(0.97,1)" font-size="14" text-anchor="middle" dy="0.36em" fill="#000" font-weight="bold" >Dalle béton</text>
<text transform="translate(1591,489.4) scale(0.97,1)" font-size="11.4" text-anchor="middle" dy="0.36em" fill="#000" stroke="#000" stroke-width="0.22" >SU : 32,19 m²</text>
<text transform="translate(1591,530.3) scale(0.86,1)" font-size="10.8" text-anchor="middle" dy="0.36em" fill="#555" font-style="italic" stroke="#555" stroke-width="0.3" >Charpente apparente</text>
<text transform="translate(666,104) scale(0.86,1)" font-size="10.6" text-anchor="middle" dy="0.36em" fill="#999" font-style="italic" stroke="#999" stroke-width="0.3" >Douche italienne</text>
<text transform="translate(666,117) scale(0.86,1)" font-size="10.6" text-anchor="middle" dy="0.36em" fill="#999" font-style="italic" stroke="#999" stroke-width="0.3" >80*195</text>
<text transform="translate(758,243.5) rotate(-90) scale(0.86,1)" font-size="10.8" text-anchor="middle" dy="0.36em" fill="#666" font-style="italic" stroke="#666" stroke-width="0.3" >P.Gal. 73x204</text>
<text transform="translate(887.5,244) rotate(-90) scale(0.86,1)" font-size="10.8" text-anchor="middle" dy="0.36em" fill="#666" font-style="italic" stroke="#666" stroke-width="0.3" >P.Gal. 73x204</text>
<text transform="translate(1041.5,289.7) rotate(-90) scale(0.86,1)" font-size="10.8" text-anchor="middle" dy="0.36em" fill="#666" font-style="italic" stroke="#666" stroke-width="0.3" >P.Gal. 83x204</text>
<text transform="translate(822.5,305) scale(0.86,1)" font-size="10.8" text-anchor="middle" dy="0.36em" fill="#666" font-style="italic" stroke="#666" stroke-width="0.3" >P.Gal. 83x204</text>
<text transform="translate(820,199) rotate(-20.5) scale(0.91,1)" font-size="13.2" text-anchor="middle" dy="0.36em" fill="#777" stroke="#777" stroke-width="0.3" >P: 83 x 2,04</text>
<text transform="translate(1143,609.8) scale(0.91,1)" font-size="13.2" text-anchor="middle" dy="0.36em" fill="#666" stroke="#666" stroke-width="0.3" >P: 83 x 2,04</text>
<text transform="translate(654.5,657.2) scale(0.85,1)" font-size="12" text-anchor="middle" dy="0.36em" fill="#000" stroke="#000" stroke-width="0.3" >±0,00</text>
<line x1="642.5" y1="675.5" x2="666.5" y2="675.5" stroke="#000" stroke-width="1.5" />
<line x1="654.5" y1="663.5" x2="654.5" y2="687.5" stroke="#000" stroke-width="1.5" />
<circle cx="654.5" cy="675.5" r="5.2" fill="none" stroke="#000" stroke-width="2.2"/>
<path d="M654.5 675.5 L654.5 670.3 A5.2 5.2 0 0 1 659.7 675.5 Z" fill="#000" stroke="none" stroke-width="1.6" />
<path d="M654.5 675.5 L654.5 680.7 A5.2 5.2 0 0 1 649.3 675.5 Z" fill="#000" stroke="none" stroke-width="1.6" />
<text transform="translate(1591.3,400.6) scale(0.85,1)" font-size="12" text-anchor="middle" dy="0.36em" fill="#000" stroke="#000" stroke-width="0.3" >-0,15</text>
<line x1="1579.3" y1="419.5" x2="1603.3" y2="419.5" stroke="#000" stroke-width="1.5" />
<line x1="1591.3" y1="407.5" x2="1591.3" y2="431.5" stroke="#000" stroke-width="1.5" />
<circle cx="1591.3" cy="419.5" r="5.2" fill="none" stroke="#000" stroke-width="2.2"/>
<path d="M1591.3 419.5 L1591.3 414.3 A5.2 5.2 0 0 1 1596.5 419.5 Z" fill="#000" stroke="none" stroke-width="1.6" />
<path d="M1591.3 419.5 L1591.3 424.7 A5.2 5.2 0 0 1 1586.1 419.5 Z" fill="#000" stroke="none" stroke-width="1.6" />
<circle cx="349.5" cy="11" r="4.6" fill="#fff" stroke="#444" stroke-width="1.4"/>
<circle cx="1383.7" cy="11" r="4.6" fill="#fff" stroke="#444" stroke-width="1.4"/>
<circle cx="10.5" cy="537" r="4.6" fill="#fff" stroke="#444" stroke-width="1.4"/>
<circle cx="349.5" cy="790" r="4.6" fill="#fff" stroke="#444" stroke-width="1.4"/>
<circle cx="895" cy="1021" r="4.6" fill="#fff" stroke="#444" stroke-width="1.4"/>
<circle cx="1799.8" cy="841.6" r="4.6" fill="#fff" stroke="#444" stroke-width="1.4"/>
<line x1="1854.6" y1="12" x2="1854.6" y2="1020" stroke="#1c1c1c" stroke-width="1.9" />
<line x1="1848" y1="14" x2="1856" y2="14" stroke="#222" stroke-width="1.3" />
<line x1="1849" y1="18" x2="1856" y2="11" stroke="#222" stroke-width="1.1" />
<line x1="1848" y1="58" x2="1856" y2="58" stroke="#222" stroke-width="1.3" />
<line x1="1849" y1="62" x2="1856" y2="55" stroke="#222" stroke-width="1.1" />
<line x1="1848" y1="158" x2="1856" y2="158" stroke="#222" stroke-width="1.3" />
<line x1="1849" y1="162" x2="1856" y2="155" stroke="#222" stroke-width="1.1" />
<line x1="1848" y1="249" x2="1856" y2="249" stroke="#222" stroke-width="1.3" />
<line x1="1849" y1="253" x2="1856" y2="246" stroke="#222" stroke-width="1.1" />
<line x1="1848" y1="510" x2="1856" y2="510" stroke="#222" stroke-width="1.3" />
<line x1="1849" y1="514" x2="1856" y2="507" stroke="#222" stroke-width="1.1" />
<line x1="1848" y1="634" x2="1856" y2="634" stroke="#222" stroke-width="1.3" />
<line x1="1849" y1="638" x2="1856" y2="631" stroke="#222" stroke-width="1.1" />
<line x1="1848" y1="873" x2="1856" y2="873" stroke="#222" stroke-width="1.3" />
<line x1="1849" y1="877" x2="1856" y2="870" stroke="#222" stroke-width="1.1" />
<line x1="1848" y1="1014" x2="1856" y2="1014" stroke="#222" stroke-width="1.3" />
<line x1="1849" y1="1018" x2="1856" y2="1011" stroke="#222" stroke-width="1.1" />
<text transform="translate(1843,37) rotate(-90) scale(0.82,1)" font-size="22" text-anchor="middle" dy="0.36em" fill="#222" stroke="#222" stroke-width="0.3" >40</text>
<text transform="translate(1843,107.5) rotate(-90) scale(0.82,1)" font-size="22" text-anchor="middle" dy="0.36em" fill="#222" stroke="#222" stroke-width="0.3" >1,00</text>
<text transform="translate(1843,204) rotate(-90) scale(0.82,1)" font-size="22" text-anchor="middle" dy="0.36em" fill="#222" stroke="#222" stroke-width="0.3" >90</text>
<text transform="translate(1843,380) rotate(-90) scale(0.82,1)" font-size="22" text-anchor="middle" dy="0.36em" fill="#222" stroke="#222" stroke-width="0.3" >2,60</text>
<text transform="translate(1843,570) rotate(-90) scale(0.82,1)" font-size="22" text-anchor="middle" dy="0.36em" fill="#222" stroke="#222" stroke-width="0.3" >1,20</text>
<text transform="translate(1843,753) rotate(-90) scale(0.82,1)" font-size="22" text-anchor="middle" dy="0.36em" fill="#222" stroke="#222" stroke-width="0.3" >2,40</text>
<text transform="translate(1843,944) rotate(-90) scale(0.82,1)" font-size="22" text-anchor="middle" dy="0.36em" fill="#222" stroke="#222" stroke-width="0.3" >1,40</text>
<text transform="translate(1836.3,243.5)" font-size="33" text-anchor="start" dy="0.36em" fill="#000" font-weight="bold" >B</text>
<line x1="0" y1="267" x2="211" y2="267" stroke="#3f96e4" stroke-width="1.8" stroke-dasharray="20 6 3 6" />
<line x1="1611" y1="267" x2="1856" y2="267" stroke="#3f96e4" stroke-width="1.8" stroke-dasharray="20 6 3 6" />
<line x1="722" y1="0" x2="722" y2="149" stroke="#3f96e4" stroke-width="1.8" stroke-dasharray="20 6 3 6" />
<line x1="722" y1="891" x2="722" y2="1036" stroke="#3f96e4" stroke-width="1.8" stroke-dasharray="20 6 3 6" />
<path d="M384.5 610 Q410 611 431 624 L385.5 700" fill="none" stroke="#646464" stroke-width="2.0" />
<line x1="1450.8" y1="851" x2="1450.8" y2="873" stroke="#000" stroke-width="2.1" />
<line x1="1752.2" y1="851" x2="1752.2" y2="873" stroke="#000" stroke-width="2.1" />
<rect x="1445" y="846.5" width="313" height="5.5" fill="#fff" stroke="#707070" stroke-width="1.4" />
<rect x="1445" y="846.5" width="6" height="5.5" fill="#fff" stroke="#707070" stroke-width="1.2" />
<rect x="1752" y="846.5" width="6" height="5.5" fill="#fff" stroke="#707070" stroke-width="1.2" />
</svg>
</body></html>
